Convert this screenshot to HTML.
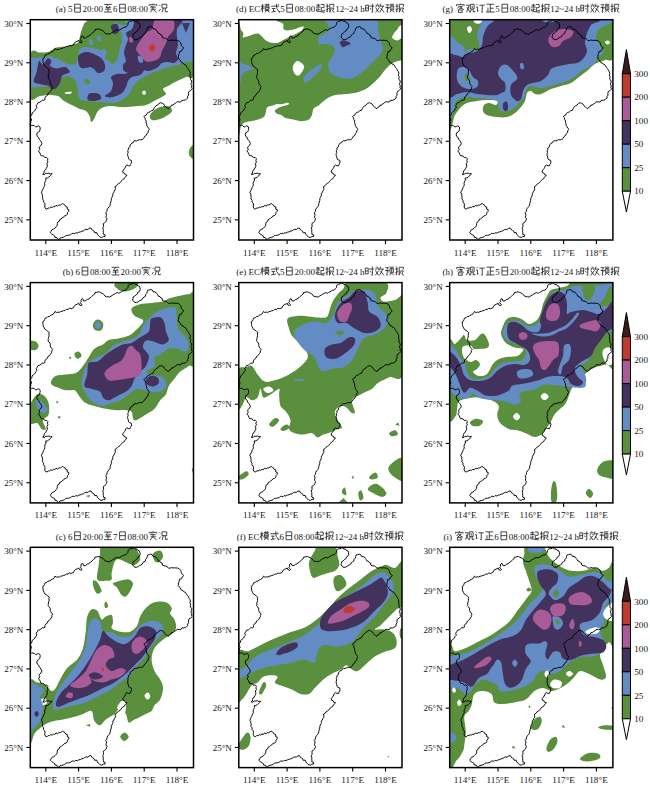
<!DOCTYPE html><html><head><meta charset="utf-8"><style>html,body{margin:0;padding:0;background:#fff;}svg{display:block}</style></head><body>
<svg width="650" height="786" viewBox="0 0 650 786" font-family="Liberation Serif, serif" fill="#222">
<defs><clipPath id="cl"><rect x="0" y="0" width="163.2" height="220.3"/></clipPath><path id="ol" d="M92.4,8.4 91.1,9.2 89.8,9.9 88.5,10.7 87.0,10.0 85.4,10.7 83.9,11.6 82.4,12.5 80.8,13.5 79.3,14.5 77.8,14.2 76.2,14.1 74.8,13.6 74.1,12.4 73.1,11.5 71.6,10.5 70.0,9.9 68.6,9.2 67.0,9.5 64.7,9.9 64.4,11.4 63.1,12.2 61.6,13.8 60.6,14.8 59.3,15.3 58.5,16.6 57.0,16.8 55.4,18.1 53.4,18.4 52.4,16.1 51.3,16.5 50.6,17.7 50.8,19.1 50.0,19.9 50.7,21.2 51.9,22.2 50.8,23.0 49.1,22.4 48.5,20.7 47.0,21.5 45.4,22.2 44.2,23.0 43.1,25.3 40.8,26.1 39.1,25.7 37.7,26.8 35.9,26.7 34.7,27.9 33.1,28.1 31.6,28.8 30.3,28.9 29.1,29.8 27.7,29.5 26.0,29.9 24.7,28.8 23.6,31.0 21.6,32.2 20.3,32.7 19.3,33.9 17.7,33.8 16.5,35.1 14.7,35.6 14.3,37.0 13.8,38.3 12.4,39.1 12.6,40.4 12.8,41.7 12.8,43.0 13.9,45.3 14.7,46.8 16.2,47.6 17.6,48.8 19.0,49.9 18.6,51.4 18.7,53.0 18.5,54.5 18.0,55.7 18.0,57.1 17.7,58.4 19.1,59.7 20.0,61.5 19.9,63.2 20.5,64.5 21.3,65.7 22.4,66.8 21.6,68.0 21.6,69.5 20.8,70.7 20.1,72.0 19.0,73.0 17.7,73.8 17.1,75.7 15.4,76.8 14.6,78.3 14.7,79.9 13.5,80.6 11.9,80.5 10.8,81.5 9.6,82.6 7.8,82.9 7.0,84.5 5.9,85.9 6.7,87.8 5.4,89.1 4.6,90.9 3.1,92.2 1.8,93.2 1.6,94.8 0.8,96.1 -0.0,97.4 0.8,98.9 1.3,100.3 0.4,101.6 0.5,103.0 -0.2,104.5 0.0,106.1 1.4,105.8 2.7,105.6 4.0,106.1 5.3,107.2 6.6,107.0 8.0,106.1 9.3,106.8 9.9,108.3 9.7,109.9 9.3,111.4 8.4,112.4 7.0,113.0 6.5,114.9 7.0,116.8 8.4,117.8 8.9,119.5 10.0,120.7 10.9,122.2 11.6,123.8 10.8,125.6 9.3,126.8 8.7,128.1 9.5,129.6 8.5,130.8 8.5,132.2 9.8,133.2 10.1,134.7 10.8,136.1 12.3,136.0 13.6,136.5 14.6,138.0 16.2,137.6 17.7,139.1 17.0,140.6 17.7,142.2 16.6,143.7 17.0,145.3 16.9,147.0 16.1,148.4 15.4,149.9 14.2,150.7 13.7,152.1 13.7,153.7 12.4,154.5 14.1,155.0 15.4,153.6 17.0,153.8 18.5,153.4 20.1,154.2 21.6,153.8 21.0,155.1 20.0,156.1 18.6,157.2 17.2,158.2 15.4,158.4 15.7,160.4 14.7,162.2 14.3,163.7 14.6,165.3 13.9,166.8 13.2,167.9 12.9,169.2 12.2,170.4 11.6,171.5 11.1,173.1 12.0,174.5 12.1,176.1 12.4,177.6 12.1,179.2 13.4,180.6 13.1,182.2 14.4,183.5 14.7,185.3 14.4,187.3 15.4,189.1 16.8,189.4 17.9,188.2 19.3,188.4 20.4,187.4 22.0,187.7 23.1,186.8 24.6,187.1 25.7,185.6 27.3,186.4 28.5,185.3 30.0,185.4 31.2,184.5 32.4,183.8 33.5,184.7 34.8,185.4 35.4,186.8 37.0,187.3 36.9,189.4 38.5,189.9 38.4,191.6 37.2,192.9 37.0,194.5 35.9,195.8 34.1,196.2 33.1,197.6 31.8,198.2 30.7,199.4 29.3,199.9 29.0,201.5 27.5,202.3 27.0,203.8 26.9,205.6 25.9,207.1 24.7,208.4 23.3,209.4 21.7,210.0 20.8,211.5 20.0,213.0 21.4,214.3 23.1,215.3 24.3,216.0 24.6,217.7 26.4,217.8 27.0,219.1 28.5,219.9 29.7,218.4 31.4,218.0 33.1,217.6 34.3,217.1 35.3,216.0 36.6,215.7 38.0,215.6 39.3,215.3 40.6,214.9 41.5,213.8 42.9,213.7 44.4,214.0 45.4,213.0 47.1,213.4 48.6,212.5 50.1,212.2 51.6,211.5 53.2,211.2 54.5,210.1 56.0,209.6 57.7,209.9 58.9,208.5 60.8,208.4 61.4,209.9 62.6,210.7 63.9,211.5 64.4,213.0 66.5,212.9 67.0,214.5 67.8,215.7 69.0,216.5 70.0,217.6 71.6,217.7 73.1,216.8 74.7,216.8 74.9,215.2 73.0,214.5 73.1,213.0 72.9,211.5 73.0,209.9 72.4,208.4 73.3,207.0 73.2,205.4 73.1,203.8 74.4,203.0 75.5,202.1 76.2,200.7 76.7,199.1 75.6,197.6 76.0,196.0 76.2,194.5 75.4,193.0 76.7,191.7 76.8,189.9 77.7,188.4 78.9,187.1 79.8,185.6 80.0,183.8 80.5,182.3 81.0,180.7 81.0,179.1 81.6,177.6 82.2,176.4 82.7,175.2 82.4,173.7 83.6,172.8 83.9,171.5 84.9,170.1 85.0,168.5 84.7,166.8 86.2,166.1 87.1,164.7 88.5,163.8 89.8,163.0 90.7,161.8 91.6,160.7 92.6,159.6 94.0,159.0 94.7,157.6 96.2,156.1 96.6,155.3 95.0,155.1 94.2,153.4 92.7,153.0 92.4,151.3 93.5,149.9 94.4,148.8 95.0,147.6 95.5,146.2 96.6,145.3 98.1,146.0 99.7,146.1 100.2,144.8 100.9,143.6 101.2,142.2 101.0,140.7 99.3,140.1 98.2,139.2 98.1,137.6 97.4,135.8 97.4,133.8 97.9,132.6 97.4,131.1 98.1,129.9 98.1,128.2 99.8,127.0 99.7,125.3 100.8,124.5 101.5,123.3 103.0,122.9 103.5,121.5 104.7,121.0 106.2,121.2 107.4,120.7 108.9,120.0 110.4,120.1 112.0,119.9 113.5,118.6 114.3,116.8 116.0,115.7 116.6,113.8 117.9,112.8 118.0,111.1 118.9,109.9 118.4,108.5 117.4,107.3 116.5,106.0 116.4,104.4 115.8,103.0 115.9,101.3 115.0,99.9 114.8,98.1 113.5,96.8 114.8,96.0 116.1,95.3 116.6,93.8 118.0,92.7 119.7,92.2 121.0,91.0 122.7,90.7 123.4,89.1 124.3,87.6 125.6,86.2 127.4,85.3 128.6,83.8 130.4,83.0 132.0,83.6 133.5,84.5 134.5,86.2 135.8,87.6 137.0,88.3 138.1,89.1 138.9,87.6 140.6,86.9 141.2,85.3 142.7,85.5 143.7,84.2 145.0,83.8 146.0,82.6 147.3,82.0 148.9,82.2 150.6,82.3 151.7,80.5 153.5,80.7 155.0,80.2 156.2,79.3 157.4,78.4 157.3,76.8 158.3,75.4 158.1,73.8 158.6,71.8 160.4,70.7 162.0,69.1 161.2,67.7 161.5,66.1 160.6,64.6 161.2,63.0 161.5,61.4 160.4,60.0 160.0,58.4 160.4,56.8 159.5,55.4 160.1,53.7 159.7,52.2 158.9,51.1 158.3,49.8 157.6,48.6 156.6,47.6 155.9,46.2 155.1,45.0 153.5,44.5 152.7,43.3 151.1,42.8 150.4,41.5 149.8,40.3 148.8,39.4 148.0,38.3 148.1,36.8 148.3,35.3 149.0,33.8 148.9,32.2 151.2,31.5 151.9,29.6 153.5,28.4 152.0,26.8 151.1,25.7 150.7,24.4 150.4,23.0 149.1,21.6 147.4,20.7 145.8,20.7 144.3,20.5 142.7,20.7 141.2,20.3 139.6,20.9 138.1,20.7 136.8,19.5 135.3,18.6 133.5,18.4 132.0,17.8 131.9,15.8 130.4,15.3 129.7,14.0 128.0,13.6 127.4,12.2 126.5,11.1 125.8,9.9 124.3,9.3 122.7,9.1 122.0,7.5 120.4,6.8 119.0,7.4 117.4,7.6 116.9,9.1 116.6,10.7 115.3,12.0 115.0,13.8 113.7,14.5 112.5,15.3 112.0,16.8 110.7,17.6 109.3,18.1 108.1,19.1 106.3,20.0 104.3,19.9 103.4,18.5 102.0,17.6 102.8,16.2 102.7,14.5 104.4,13.5 105.8,12.2 107.1,11.4 107.5,9.8 108.9,9.1 109.9,7.3 109.7,5.3 109.1,3.6 107.4,3.0 106.6,1.7 105.1,1.8 104.1,0.9 102.7,0.7 101.3,1.4 99.7,1.5 98.4,2.3 97.7,3.5 97.6,5.1 96.6,6.1 95.5,7.5 93.8,7.7Z" fill="none" stroke="#000" stroke-width="0.95" stroke-linejoin="round"/></defs>
<g transform="translate(30.3,19.7)">
<text x="25.48 28.48 32.47 37.72" y="-7.6" font-size="9.0" fill="#151515">(a)5</text><path d="M44.32,-15.45H50.02V-7.56H44.32ZM44.32,-11.65 50.02,-11.65" fill="none" stroke="#262626" stroke-width="0.85"/><text x="52.22 56.72 61.22 63.72 68.22" y="-7.6" font-size="9.0" fill="#151515">20:00</text><path d="M73.87,-15.26 81.47,-15.26M77.67,-15.26 75.58,-12.03 80.04,-12.41M79.09,-13.55 80.52,-12.12M74.82,-10.51 80.52,-10.51M77.67,-12.12 77.67,-7.85M73.68,-7.66 81.66,-7.66" fill="none" stroke="#262626" stroke-width="0.85"/><text x="82.72" y="-7.6" font-size="9.0" fill="#151515">6</text><path d="M89.32,-15.45H95.02V-7.56H89.32ZM89.32,-11.65 95.02,-11.65" fill="none" stroke="#262626" stroke-width="0.85"/><text x="97.22 101.72 106.22 108.72 113.22" y="-7.6" font-size="9.0" fill="#151515">08:00</text><path d="M122.67,-16.21 122.67,-15.16M118.87,-13.74 118.87,-14.97 126.47,-14.97 126.47,-13.74M119.82,-12.60 125.52,-12.60M120.29,-10.51 125.52,-10.51M122.67,-13.74 122.67,-10.51M122.67,-10.51 119.82,-7.28M123.14,-9.94 126.28,-7.37M120.77,-13.74 121.53,-13.17" fill="none" stroke="#262626" stroke-width="0.85"/><path d="M128.87,-14.88 130.01,-13.74M128.68,-8.32 130.29,-10.70M131.72,-15.45H136.47V-11.65H131.72ZM133.14,-11.65 131.72,-7.28M135.04,-11.65 135.04,-7.85 137.04,-7.85 137.04,-8.80" fill="none" stroke="#262626" stroke-width="0.85"/>
<g clip-path="url(#cl)">
<path d="M0.1,34.3C1.8,26.9 6.8,33.2 9.7,32.9C12.6,32.6 15.4,32.9 17.7,32.3C20.0,31.7 21.0,30.1 23.7,29.3C26.4,28.5 30.4,28.1 33.7,27.3C37.0,26.5 41.2,25.1 43.7,24.3C46.2,23.5 47.2,23.6 48.7,22.3C50.2,21.0 51.7,18.5 52.7,16.3C53.7,14.1 54.5,11.3 54.7,9.3C54.9,7.3 53.2,5.6 53.7,4.3C54.2,3.0 56.4,2.5 57.7,1.7C59.0,0.9 44.0,-0.3 61.7,-0.7C79.4,-1.1 146.7,-9.7 163.7,-0.7C180.7,8.3 165.0,43.6 163.7,53.3C162.4,63.0 158.5,56.0 155.7,57.3C152.9,58.6 149.7,59.8 146.7,61.3C143.7,62.8 140.0,65.0 137.7,66.3C135.4,67.6 133.0,68.0 132.7,69.3C132.4,70.6 136.2,72.8 135.7,74.3C135.2,75.8 131.7,77.1 129.7,78.3C127.7,79.5 126.0,80.1 123.7,81.3C121.4,82.5 118.4,84.5 115.7,85.3C113.0,86.1 110.7,86.0 107.7,86.3C104.7,86.6 100.7,87.1 97.7,87.3C94.7,87.5 92.4,87.5 89.7,87.3C87.0,87.1 84.4,86.3 81.7,86.3C79.0,86.3 76.0,86.5 73.7,87.3C71.4,88.1 69.4,89.3 67.7,91.3C66.0,93.3 64.9,97.5 63.7,99.3C62.5,101.1 61.4,102.6 60.7,102.3C60.0,102.0 60.5,99.1 59.7,97.3C58.9,95.5 57.4,92.6 55.7,91.3C54.0,90.0 51.7,90.1 49.7,89.3C47.7,88.5 46.4,87.6 43.7,86.3C41.0,85.0 36.4,83.0 33.7,81.3C31.0,79.6 30.4,77.3 27.7,76.3C25.0,75.3 20.7,75.3 17.7,75.3C14.7,75.3 12.7,76.0 9.7,76.3C6.7,76.6 1.3,84.3 -0.3,77.3C-1.9,70.3 -1.6,41.7 0.1,34.3Z" fill="#5a8f3e"/>
<path d="M119.7,95.3C120.4,93.5 123.4,90.8 125.7,89.3C128.0,87.8 131.4,86.6 133.7,86.3C136.0,86.0 138.4,86.5 139.7,87.3C141.0,88.1 142.0,90.0 141.7,91.3C141.4,92.6 139.7,94.0 137.7,95.3C135.7,96.6 132.4,98.5 129.7,99.3C127.0,100.1 123.4,101.0 121.7,100.3C120.0,99.6 119.0,97.1 119.7,95.3Z" fill="#5a8f3e"/>
<path d="M160.0,128.0C160.9,126.8 163.3,124.2 164.0,126.0C164.7,127.8 164.7,137.2 164.0,139.0C163.3,140.8 160.9,138.0 160.0,137.0C159.1,136.0 158.5,134.5 158.5,133.0C158.5,131.5 159.1,129.2 160.0,128.0Z" fill="#5a8f3e"/>
<path d="M-0.3,40.3C0.7,35.8 3.4,38.8 5.7,38.3C8.0,37.8 11.0,37.6 13.7,37.3C16.4,37.0 19.0,36.8 21.7,36.3C24.4,35.8 27.0,35.0 29.7,34.3C32.4,33.6 35.4,33.1 37.7,32.3C40.0,31.5 42.0,30.1 43.7,29.3C45.4,28.5 46.7,28.0 47.7,27.3C48.7,26.6 48.7,26.0 49.7,25.3C50.7,24.6 52.4,24.3 53.7,23.3C55.0,22.3 56.7,20.5 57.7,19.3C58.7,18.1 58.7,17.3 59.7,16.3C60.7,15.3 62.4,14.1 63.7,13.3C65.0,12.5 65.7,12.0 67.7,11.3C69.7,10.6 73.4,10.3 75.7,9.3C78.0,8.3 80.0,6.5 81.7,5.3C83.4,4.1 84.0,2.3 85.7,2.3C87.4,2.3 89.7,5.0 91.7,5.3C93.7,5.6 96.4,5.3 97.7,4.3C99.0,3.3 88.7,0.1 99.7,-0.7C110.7,-1.5 153.0,-7.0 163.7,-0.7C174.4,5.6 165.0,30.1 163.7,37.3C162.4,44.5 158.4,41.0 155.7,42.3C153.0,43.6 150.7,44.5 147.7,45.3C144.7,46.1 140.7,46.5 137.7,47.3C134.7,48.1 132.4,49.3 129.7,50.3C127.0,51.3 124.4,52.1 121.7,53.3C119.0,54.5 116.0,56.0 113.7,57.3C111.4,58.6 109.4,60.0 107.7,61.3C106.0,62.6 105.0,63.3 103.7,65.3C102.4,67.3 101.0,71.3 99.7,73.3C98.4,75.3 97.4,76.0 95.7,77.3C94.0,78.6 92.0,80.3 89.7,81.3C87.4,82.3 85.0,83.1 81.7,83.3C78.4,83.5 73.7,82.6 69.7,82.3C65.7,82.0 61.0,81.8 57.7,81.3C54.4,80.8 51.4,80.6 49.7,79.3C48.0,78.0 48.2,75.6 47.7,73.3C47.2,71.0 47.4,67.6 46.7,65.3C46.0,63.0 45.2,60.8 43.7,59.3C42.2,57.8 39.4,56.6 37.7,56.3C36.0,56.0 35.0,56.8 33.7,57.3C32.4,57.8 30.7,58.3 29.7,59.3C28.7,60.3 28.7,62.3 27.7,63.3C26.7,64.3 25.4,64.8 23.7,65.3C22.0,65.8 20.0,66.0 17.7,66.3C15.4,66.6 12.7,67.5 9.7,67.3C6.7,67.1 1.4,69.8 -0.3,65.3C-2.0,60.8 -1.3,44.8 -0.3,40.3Z" fill="#648cc4"/>
<path d="M46.7,30.3C47.5,31.3 51.0,27.6 53.7,27.3C56.4,27.0 60.0,27.8 62.7,28.3C65.4,28.8 67.9,30.1 69.7,30.3C71.5,30.5 72.5,29.0 73.7,29.3C74.9,29.6 76.5,31.0 76.7,32.3C76.9,33.6 74.2,35.6 74.7,37.3C75.2,39.0 78.5,41.1 79.7,42.3C80.9,43.5 80.5,44.6 81.7,44.3C82.9,44.0 85.4,43.1 86.7,40.3C88.0,37.5 88.9,30.8 89.7,27.3C90.5,23.8 91.7,22.1 91.7,19.3C91.7,16.5 91.4,13.0 89.7,10.3C88.0,7.6 83.7,4.8 81.7,3.3C79.7,1.8 81.7,1.6 77.7,1.3C73.7,1.0 62.0,-0.0 57.7,1.3C53.4,2.6 53.2,6.0 51.7,9.3C50.2,12.6 49.5,17.8 48.7,21.3C47.9,24.8 45.9,29.3 46.7,30.3Z" fill="#5a8f3e"/>
<path d="M103.7,9.3C104.4,7.3 107.4,6.3 109.7,5.3C112.0,4.3 115.0,3.5 117.7,3.3C120.4,3.1 123.0,3.3 125.7,4.3C128.4,5.3 132.0,7.1 133.7,9.3C135.4,11.5 135.0,14.6 135.7,17.3C136.4,20.0 137.7,22.6 137.7,25.3C137.7,28.0 136.7,31.0 135.7,33.3C134.7,35.6 133.0,37.6 131.7,39.3C130.4,41.0 129.0,43.6 127.7,43.3C126.4,43.0 125.4,39.0 123.7,37.3C122.0,35.6 119.7,34.6 117.7,33.3C115.7,32.0 113.0,31.3 111.7,29.3C110.4,27.3 110.7,23.3 109.7,21.3C108.7,19.3 106.7,19.3 105.7,17.3C104.7,15.3 103.0,11.3 103.7,9.3Z" fill="#5a8f3e"/>
<path d="M53.7,60.3C54.0,59.5 56.7,58.8 57.7,59.3C58.7,59.8 60.0,62.5 59.7,63.3C59.4,64.1 56.7,64.8 55.7,64.3C54.7,63.8 53.4,61.1 53.7,60.3Z" fill="#5a8f3e"/>
<path d="M22.3,37.3C21.6,35.6 22.1,31.0 23.3,29.3C24.5,27.6 27.3,27.7 29.7,27.3C32.1,26.9 34.8,27.2 37.7,26.9C40.6,26.6 45.1,24.6 46.9,25.3C48.7,26.0 48.6,29.1 48.7,31.3C48.8,33.5 47.8,36.2 47.3,38.3C46.8,40.4 46.8,42.6 45.7,43.7C44.6,44.8 42.4,44.9 40.7,44.9C39.0,44.9 37.1,44.2 35.7,43.7C34.3,43.2 33.4,42.4 32.1,41.7C30.8,41.0 29.3,40.0 27.7,39.3C26.1,38.6 23.0,39.0 22.3,37.3Z" fill="#5a8f3e"/>
<path d="M0.1,50.9C0.3,50.3 1.3,49.5 1.7,49.7C2.1,49.9 2.7,51.7 2.5,52.3C2.3,52.9 0.9,53.5 0.5,53.3C0.1,53.1 -0.1,51.5 0.1,50.9Z" fill="#5a8f3e"/>
<path d="M58.7,20.3C59.0,19.4 60.6,19.0 61.3,19.7C62.0,20.4 63.0,23.4 62.7,24.3C62.4,25.2 60.4,26.0 59.7,25.3C59.0,24.6 58.4,21.2 58.7,20.3Z" fill="#648cc4"/>
<path d="M66.7,16.9C67.0,16.1 69.0,15.6 69.7,16.3C70.4,17.0 71.0,20.1 70.7,20.9C70.4,21.7 68.4,22.0 67.7,21.3C67.0,20.6 66.4,17.7 66.7,16.9Z" fill="#648cc4"/>
<path d="M3.3,60.9C3.5,59.1 5.4,55.6 6.3,52.3C7.2,49.0 7.7,42.5 8.7,41.3C9.7,40.1 11.1,45.3 12.5,44.9C13.9,44.5 15.9,39.3 17.3,38.7C18.7,38.1 20.7,40.1 21.1,41.3C21.5,42.5 19.1,44.9 19.9,46.1C20.7,47.3 23.6,48.5 26.1,48.7C28.6,48.9 32.5,46.7 34.7,47.3C36.9,47.9 39.9,50.9 39.5,52.3C39.1,53.7 33.7,54.1 32.1,55.9C30.5,57.7 30.7,61.2 29.7,63.3C28.7,65.4 27.3,67.3 26.1,68.3C24.9,69.3 23.8,69.9 22.3,69.5C20.8,69.1 19.1,66.7 17.3,65.9C15.5,65.1 13.3,65.1 11.3,64.7C9.3,64.3 6.4,63.9 5.1,63.3C3.8,62.7 3.1,62.7 3.3,60.9Z" fill="#43325e"/>
<path d="M47.7,37.3C48.0,35.0 50.0,34.1 51.7,33.3C53.4,32.5 55.4,32.0 57.7,32.3C60.0,32.6 63.4,34.1 65.7,35.3C68.0,36.5 70.2,37.6 71.7,39.3C73.2,41.0 74.4,43.3 74.7,45.3C75.0,47.3 74.9,50.0 73.7,51.3C72.5,52.6 69.4,53.6 67.7,53.3C66.0,53.0 65.0,50.3 63.7,49.3C62.4,48.3 61.0,47.5 59.7,47.3C58.4,47.1 57.4,48.3 55.7,48.3C54.0,48.3 51.0,49.1 49.7,47.3C48.4,45.5 47.4,39.6 47.7,37.3Z" fill="#43325e"/>
<path d="M57.7,75.3C58.4,74.1 59.9,73.5 61.7,73.3C63.5,73.1 67.2,73.3 68.7,74.3C70.2,75.3 71.5,78.1 70.7,79.3C69.9,80.5 65.9,81.1 63.7,81.3C61.5,81.5 58.7,81.3 57.7,80.3C56.7,79.3 57.0,76.5 57.7,75.3Z" fill="#43325e"/>
<path d="M74.7,76.3C74.9,75.2 79.4,73.5 80.7,71.3C82.0,69.1 82.7,65.6 82.7,63.3C82.7,61.0 80.0,58.8 80.7,57.3C81.4,55.8 84.5,54.8 86.7,54.3C88.9,53.8 91.5,54.6 93.7,54.3C95.9,54.0 97.7,52.9 99.7,52.3C101.7,51.7 103.4,51.3 105.7,50.9C108.0,50.5 113.0,49.0 113.7,49.7C114.4,50.4 111.7,54.0 109.7,55.3C107.7,56.6 103.7,56.3 101.7,57.3C99.7,58.3 98.7,59.6 97.7,61.3C96.7,63.0 96.7,65.3 95.7,67.3C94.7,69.3 93.4,71.8 91.7,73.3C90.0,74.8 87.7,75.6 85.7,76.3C83.7,77.0 81.5,77.7 79.7,77.7C77.9,77.7 74.5,77.4 74.7,76.3Z" fill="#43325e"/>
<path d="M95.7,13.3C96.4,11.6 100.4,11.0 101.7,9.3C103.0,7.6 103.0,5.0 103.7,3.3C104.4,1.6 98.0,-0.0 105.7,-0.7C113.4,-1.4 142.9,-2.4 149.7,-0.7C156.5,1.0 147.2,6.3 146.7,9.3C146.2,12.3 146.5,14.6 146.7,17.3C146.9,20.0 147.9,22.6 147.7,25.3C147.5,28.0 145.7,31.0 145.7,33.3C145.7,35.6 148.0,37.6 147.7,39.3C147.4,41.0 145.4,42.8 143.7,43.3C142.0,43.8 139.7,42.3 137.7,42.3C135.7,42.3 133.4,42.5 131.7,43.3C130.0,44.1 129.4,46.1 127.7,47.3C126.0,48.5 123.4,49.6 121.7,50.3C120.0,51.0 119.4,51.3 117.7,51.3C116.0,51.3 113.7,50.3 111.7,50.3C109.7,50.3 107.7,50.8 105.7,51.3C103.7,51.8 101.7,53.3 99.7,53.3C97.7,53.3 94.9,52.6 93.7,51.3C92.5,50.0 92.4,47.0 92.7,45.3C93.0,43.6 95.5,43.3 95.7,41.3C95.9,39.3 93.7,36.0 93.7,33.3C93.7,30.6 95.0,27.6 95.7,25.3C96.4,23.0 97.7,21.3 97.7,19.3C97.7,17.3 95.0,15.0 95.7,13.3Z" fill="#43325e"/>
<path d="M151.7,3.3 159.7,3.3 155.7,13.3Z" fill="#43325e"/>
<path d="M80.7,6.3C81.2,4.6 85.4,3.5 86.7,4.3C88.0,5.1 89.2,9.6 88.7,11.3C88.2,13.0 85.0,15.1 83.7,14.3C82.4,13.5 80.2,8.0 80.7,6.3Z" fill="#43325e"/>
<path d="M107.7,36.3C108.2,35.5 110.9,36.3 111.7,37.3C112.5,38.3 113.2,41.5 112.7,42.3C112.2,43.1 109.5,43.3 108.7,42.3C107.9,41.3 107.2,37.1 107.7,36.3Z" fill="#648cc4"/>
<path d="M125.7,15.3C126.9,14.9 131.0,15.6 131.7,16.3C132.4,17.0 130.9,19.3 129.7,19.7C128.5,20.1 125.4,19.6 124.7,18.9C124.0,18.2 124.5,15.7 125.7,15.3Z" fill="#648cc4"/>
<path d="M105.7,29.3C105.7,27.0 108.0,24.0 109.7,21.3C111.4,18.6 113.7,15.3 115.7,13.3C117.7,11.3 120.0,11.6 121.7,9.3C123.4,7.0 122.4,1.0 125.7,-0.7C129.0,-2.4 138.7,-2.4 141.7,-0.7C144.7,1.0 144.4,6.3 143.7,9.3C143.0,12.3 139.0,15.0 137.7,17.3C136.4,19.6 136.7,21.0 135.7,23.3C134.7,25.6 132.7,29.0 131.7,31.3C130.7,33.6 130.7,35.8 129.7,37.3C128.7,38.8 127.7,39.5 125.7,40.3C123.7,41.1 119.7,42.3 117.7,42.3C115.7,42.3 115.0,41.5 113.7,40.3C112.4,39.1 111.0,37.1 109.7,35.3C108.4,33.5 105.7,31.6 105.7,29.3Z" fill="#a85b96"/>
<path d="M98.7,18.3C99.1,17.5 101.0,16.6 101.7,17.3C102.4,18.0 103.1,21.5 102.7,22.3C102.3,23.1 100.0,23.0 99.3,22.3C98.6,21.6 98.3,19.1 98.7,18.3Z" fill="#a85b96"/>
<path d="M118.7,27.3C118.8,26.3 119.9,25.2 120.7,24.9C121.5,24.6 123.0,24.7 123.7,25.3C124.4,25.9 125.2,27.3 125.1,28.3C125.0,29.3 124.1,30.9 123.3,31.3C122.5,31.7 120.9,31.6 120.1,30.9C119.3,30.2 118.6,28.3 118.7,27.3Z" fill="#c03a30"/>
<path d="M111.7,72.9C111.8,72.2 113.4,70.8 114.1,70.9C114.8,71.0 115.8,72.6 115.7,73.3C115.6,74.0 114.4,75.4 113.7,75.3C113.0,75.2 111.6,73.6 111.7,72.9Z" fill="#ffffff"/>
<path d="M34.7,72.9C35.5,72.5 39.7,71.6 40.7,71.7C41.7,71.8 41.5,73.3 40.7,73.7C39.9,74.1 36.7,74.4 35.7,74.3C34.7,74.2 33.9,73.3 34.7,72.9Z" fill="#ffffff"/>
</g>
<use href="#ol"/>
<rect x="0" y="0" width="163.2" height="220.3" fill="none" stroke="#000" stroke-width="1.5"/>
<line x1="-4" y1="3.80" x2="0" y2="3.80" stroke="#000" stroke-width="1.1"/>
<text x="-7.0" y="7.00" font-size="9" text-anchor="end" fill="#151515">30°N</text>
<line x1="-4" y1="43.07" x2="0" y2="43.07" stroke="#000" stroke-width="1.1"/>
<text x="-7.0" y="46.27" font-size="9" text-anchor="end" fill="#151515">29°N</text>
<line x1="-4" y1="82.34" x2="0" y2="82.34" stroke="#000" stroke-width="1.1"/>
<text x="-7.0" y="85.54" font-size="9" text-anchor="end" fill="#151515">28°N</text>
<line x1="-4" y1="121.61" x2="0" y2="121.61" stroke="#000" stroke-width="1.1"/>
<text x="-7.0" y="124.81" font-size="9" text-anchor="end" fill="#151515">27°N</text>
<line x1="-4" y1="160.88" x2="0" y2="160.88" stroke="#000" stroke-width="1.1"/>
<text x="-7.0" y="164.08" font-size="9" text-anchor="end" fill="#151515">26°N</text>
<line x1="-4" y1="200.15" x2="0" y2="200.15" stroke="#000" stroke-width="1.1"/>
<text x="-7.0" y="203.35" font-size="9" text-anchor="end" fill="#151515">25°N</text>
<line x1="15.50" y1="220.3" x2="15.50" y2="224.3" stroke="#000" stroke-width="1.1"/>
<text x="15.50" y="235.90" font-size="9.2" text-anchor="middle" fill="#151515">114°E</text>
<line x1="48.30" y1="220.3" x2="48.30" y2="224.3" stroke="#000" stroke-width="1.1"/>
<text x="48.30" y="235.90" font-size="9.2" text-anchor="middle" fill="#151515">115°E</text>
<line x1="81.10" y1="220.3" x2="81.10" y2="224.3" stroke="#000" stroke-width="1.1"/>
<text x="81.10" y="235.90" font-size="9.2" text-anchor="middle" fill="#151515">116°E</text>
<line x1="113.90" y1="220.3" x2="113.90" y2="224.3" stroke="#000" stroke-width="1.1"/>
<text x="113.90" y="235.90" font-size="9.2" text-anchor="middle" fill="#151515">117°E</text>
<line x1="146.70" y1="220.3" x2="146.70" y2="224.3" stroke="#000" stroke-width="1.1"/>
<text x="146.70" y="235.90" font-size="9.2" text-anchor="middle" fill="#151515">118°E</text>
</g>
<g transform="translate(30.3,282.6)">
<text x="32.48 35.47 39.97 45.22" y="-7.6" font-size="9.0" fill="#151515">(b)6</text><path d="M51.82,-15.45H57.52V-7.56H51.82ZM51.82,-11.65 57.52,-11.65" fill="none" stroke="#262626" stroke-width="0.85"/><text x="59.72 64.22 68.72 71.22 75.72" y="-7.6" font-size="9.0" fill="#151515">08:00</text><path d="M81.37,-15.26 88.97,-15.26M85.17,-15.26 83.08,-12.03 87.55,-12.41M86.60,-13.55 88.02,-12.12M82.32,-10.51 88.02,-10.51M85.17,-12.12 85.17,-7.85M81.18,-7.66 89.16,-7.66" fill="none" stroke="#262626" stroke-width="0.85"/><text x="90.22 94.72 99.22 101.72 106.22" y="-7.6" font-size="9.0" fill="#151515">20:00</text><path d="M115.67,-16.21 115.67,-15.16M111.87,-13.74 111.87,-14.97 119.47,-14.97 119.47,-13.74M112.82,-12.60 118.52,-12.60M113.30,-10.51 118.52,-10.51M115.67,-13.74 115.67,-10.51M115.67,-10.51 112.82,-7.28M116.15,-9.94 119.28,-7.37M113.77,-13.74 114.53,-13.17" fill="none" stroke="#262626" stroke-width="0.85"/><path d="M121.87,-14.88 123.01,-13.74M121.68,-8.32 123.30,-10.70M124.72,-15.45H129.47V-11.65H124.72ZM126.15,-11.65 124.72,-7.28M128.05,-11.65 128.05,-7.85 130.04,-7.85 130.04,-8.80" fill="none" stroke="#262626" stroke-width="0.85"/>
<g clip-path="url(#cl)">
<path d="M21.2,97.6C21.9,96.2 23.1,94.2 25.5,93.3C27.9,92.3 32.2,92.4 35.5,91.9C38.8,91.4 42.6,91.8 45.5,90.4C48.4,89.0 50.6,85.9 52.7,83.3C54.9,80.7 56.5,77.6 58.4,74.7C60.3,71.8 61.7,68.2 64.1,66.1C66.5,63.9 70.3,63.2 72.7,61.8C75.1,60.4 76.0,58.5 78.4,57.5C80.8,56.5 83.7,56.8 87.0,56.1C90.3,55.4 95.5,54.4 98.4,53.2C101.3,52.0 102.3,50.6 104.2,48.9C106.1,47.2 108.5,45.1 109.9,43.2C111.3,41.3 113.7,39.2 112.7,37.5C111.8,35.8 106.1,35.1 104.2,33.2C102.3,31.3 100.3,27.9 101.3,26.0C102.2,24.1 106.6,22.6 109.9,21.7C113.2,20.8 117.5,20.8 121.3,20.3C125.1,19.8 129.9,19.6 132.8,18.9C135.7,18.2 135.7,17.0 138.5,16.0C141.3,15.0 146.6,13.8 149.9,13.1C153.2,12.4 156.1,11.4 158.5,11.7C160.9,11.9 163.3,3.6 164.3,14.6C165.3,25.6 165.3,66.1 164.3,77.6C163.3,89.0 160.9,81.4 158.5,83.3C156.1,85.2 152.3,86.8 149.9,89.0C147.5,91.2 146.1,93.8 144.2,96.2C142.3,98.6 139.9,100.7 138.5,103.3C137.1,105.9 137.0,109.5 135.6,111.9C134.2,114.3 131.8,115.2 129.9,117.6C128.0,120.0 126.6,123.8 124.2,126.2C121.8,128.6 118.9,130.0 115.6,131.9C112.3,133.8 106.6,138.2 104.2,137.7C101.8,137.2 102.7,130.8 101.3,129.1C99.9,127.4 98.0,127.8 95.6,127.6C93.2,127.3 90.3,127.8 87.0,127.6C83.7,127.4 79.3,126.9 75.5,126.2C71.7,125.5 67.4,124.4 64.1,123.4C60.8,122.5 57.9,121.9 55.5,120.5C53.1,119.1 51.2,116.5 49.8,114.8C48.4,113.1 47.8,111.7 46.9,110.5C46.0,109.3 46.0,108.1 44.1,107.6C42.2,107.1 38.4,108.1 35.5,107.6C32.6,107.1 29.3,105.7 26.9,104.7C24.5,103.8 22.1,103.1 21.2,101.9C20.2,100.7 20.5,99.0 21.2,97.6Z" fill="#5a8f3e"/>
<path d="M84.1,3.1C83.4,1.6 84.6,0.3 88.4,-0.3C92.2,-0.9 104.4,-1.3 107.0,-0.3C109.6,0.7 106.6,4.5 104.2,6.0C101.8,7.5 96.1,9.4 92.7,8.9C89.3,8.4 84.8,4.6 84.1,3.1Z" fill="#5a8f3e"/>
<path d="M-0.6,58.9C0.4,57.7 3.9,58.2 5.4,58.9C6.9,59.6 8.3,61.8 8.3,63.2C8.3,64.6 6.9,67.0 5.4,67.5C3.9,68.0 0.4,67.5 -0.6,66.1C-1.6,64.7 -1.6,60.1 -0.6,58.9Z" fill="#5a8f3e"/>
<path d="M44.1,71.3C44.4,70.1 47.2,68.7 48.4,69.0C49.6,69.3 51.5,72.1 51.2,73.3C51.0,74.5 48.1,76.4 46.9,76.1C45.7,75.8 43.9,72.5 44.1,71.3Z" fill="#5a8f3e"/>
<path d="M-0.6,123.4C0.7,118.6 4.5,113.6 6.9,111.9C9.3,110.2 12.1,111.9 14.0,113.3C15.9,114.7 17.6,117.4 18.3,120.5C19.0,123.6 19.2,129.0 18.3,131.9C17.4,134.8 13.1,135.3 12.6,137.7C12.1,140.1 15.7,144.9 15.5,146.3C15.3,147.7 12.6,147.3 11.2,146.3C9.8,145.3 8.9,141.5 6.9,140.5C4.9,139.5 0.7,143.3 -0.6,140.5C-1.9,137.7 -1.9,128.2 -0.6,123.4Z" fill="#5a8f3e"/>
<path d="M62.7,41.8C63.1,40.0 65.3,37.1 67.0,36.9C68.7,36.6 72.0,38.5 72.7,40.3C73.4,42.1 72.6,46.3 71.3,47.5C70.0,48.7 66.1,48.5 64.7,47.5C63.3,46.5 62.3,43.6 62.7,41.8Z" fill="#5a8f3e"/>
<path d="M25.5,118.2 28.3,119.1 26.9,121.1Z" fill="#5a8f3e"/>
<path d="M26.9,134.2 30.3,133.4 29.2,136.5Z" fill="#5a8f3e"/>
<path d="M55.5,213.5 59.8,212.1 58.9,215Z" fill="#5a8f3e"/>
<path d="M161.4,186.3 163.1,184.9 163.1,192.1Z" fill="#5a8f3e"/>
<path d="M38.3,74.7 41.2,74.1 40.1,77Z" fill="#5a8f3e"/>
<path d="M51.2,100.5C51.2,98.1 51.8,95.0 52.7,91.9C53.7,88.8 55.0,84.4 56.9,81.8C58.8,79.2 61.0,78.0 64.1,76.1C67.2,74.2 72.4,72.6 75.5,70.4C78.6,68.2 79.8,65.1 82.7,63.2C85.6,61.3 89.4,60.1 92.7,58.9C96.0,57.7 99.8,57.5 102.7,56.1C105.6,54.7 108.2,52.5 109.9,50.4C111.6,48.2 110.8,46.1 112.7,43.2C114.6,40.3 118.4,35.8 121.3,33.2C124.2,30.6 126.6,28.9 129.9,27.5C133.2,26.1 138.8,24.9 141.4,24.6C144.0,24.4 144.8,22.9 145.7,26.0C146.6,29.1 146.4,39.4 147.1,43.2C147.8,47.0 148.5,47.0 149.9,48.9C151.3,50.8 154.3,52.3 155.7,54.7C157.1,57.1 158.5,60.8 158.5,63.2C158.5,65.6 157.6,68.5 155.7,69.0C153.8,69.5 150.0,66.6 147.1,66.1C144.2,65.6 141.4,65.1 138.5,66.1C135.6,67.0 132.3,70.4 129.9,71.8C127.5,73.2 125.2,72.8 124.2,74.7C123.2,76.6 125.6,80.9 124.2,83.3C122.8,85.7 116.1,87.6 115.6,89.0C115.1,90.4 118.4,91.0 121.3,91.9C124.2,92.9 130.4,92.8 132.8,94.7C135.2,96.6 136.1,100.9 135.6,103.3C135.1,105.7 132.8,108.0 129.9,109.0C127.1,110.0 122.3,109.5 118.5,109.0C114.7,108.5 110.3,105.7 107.0,106.2C103.7,106.7 101.2,110.0 98.4,111.9C95.6,113.8 92.8,116.2 89.9,117.6C87.1,119.0 84.2,119.5 81.3,120.5C78.4,121.5 75.6,123.4 72.7,123.4C69.8,123.4 66.5,121.7 64.1,120.5C61.7,119.3 59.8,117.9 58.4,116.2C57.0,114.5 56.5,112.2 55.5,110.5C54.5,108.8 53.4,107.9 52.7,106.2C52.0,104.5 51.2,102.9 51.2,100.5Z" fill="#648cc4"/>
<path d="M5.4,119.1C5.6,117.4 7.8,116.4 9.7,117.6C11.6,118.8 16.2,124.0 16.9,126.2C17.6,128.3 15.4,130.3 14.0,130.5C12.6,130.7 9.7,129.5 8.3,127.6C6.9,125.7 5.2,120.8 5.4,119.1Z" fill="#648cc4"/>
<path d="M64.7,41.8C65.0,40.7 66.5,38.9 67.5,38.9C68.5,38.9 70.4,40.7 70.7,41.8C71.0,42.9 70.2,44.9 69.3,45.5C68.4,46.1 66.3,46.1 65.5,45.5C64.7,44.9 64.4,42.9 64.7,41.8Z" fill="#648cc4"/>
<path d="M54.1,103.3C53.4,100.9 56.2,95.7 56.9,91.9C57.6,88.1 56.7,82.6 58.4,80.4C60.1,78.2 64.2,80.4 67.0,79.0C69.8,77.6 72.7,74.0 75.5,71.8C78.3,69.6 81.2,67.8 84.1,66.1C87.0,64.4 89.8,62.8 92.7,61.8C95.6,60.8 98.4,61.6 101.3,60.4C104.2,59.2 107.0,56.6 109.9,54.7C112.8,52.8 116.8,51.3 118.5,48.9C120.2,46.5 119.4,42.4 119.9,40.3C120.4,38.1 119.6,37.0 121.3,36.0C123.0,35.0 127.8,33.9 129.9,34.6C132.1,35.3 133.2,37.9 134.2,40.3C135.1,42.7 134.9,46.0 135.6,48.9C136.3,51.8 139.0,55.4 138.5,57.5C138.0,59.6 134.7,61.3 132.8,61.8C130.9,62.3 128.8,60.9 127.1,60.4C125.4,59.9 124.7,59.3 122.8,58.9C120.9,58.5 117.3,57.1 115.6,58.1C113.9,59.1 112.2,62.2 112.7,64.7C113.2,67.2 118.0,70.2 118.5,73.3C119.0,76.4 117.0,80.7 115.6,83.3C114.2,85.9 111.8,86.8 109.9,89.0C108.0,91.2 105.6,93.8 104.2,96.2C102.8,98.6 102.7,101.2 101.3,103.3C99.9,105.4 98.0,107.3 95.6,109.0C93.2,110.7 89.9,111.9 87.0,113.3C84.1,114.7 80.8,117.3 78.4,117.6C76.0,117.8 74.1,116.2 72.7,114.8C71.3,113.4 71.7,110.4 69.8,109.0C67.9,107.6 63.8,107.2 61.2,106.2C58.6,105.2 54.8,105.7 54.1,103.3Z" fill="#43325e"/>
<path d="M115.6,97.6C116.1,96.2 118.0,93.8 119.9,93.3C121.8,92.8 125.7,93.5 127.1,94.7C128.5,95.9 129.2,99.0 128.5,100.5C127.8,102.0 124.7,103.7 122.8,103.9C120.9,104.1 118.2,103.0 117.0,101.9C115.8,100.9 115.1,99.0 115.6,97.6Z" fill="#43325e"/>
<path d="M74.1,90.4C74.6,88.0 78.7,85.2 81.3,83.3C83.9,81.4 87.8,80.7 89.9,79.0C92.0,77.3 92.9,75.5 94.1,73.3C95.3,71.1 95.8,67.8 97.0,66.1C98.2,64.4 99.9,63.0 101.3,63.2C102.7,63.4 104.2,66.1 105.6,67.5C107.0,68.9 109.0,69.2 109.9,71.8C110.9,74.4 111.3,79.9 111.3,83.3C111.3,86.7 111.1,90.0 109.9,91.9C108.7,93.8 106.6,94.0 104.2,94.7C101.8,95.4 98.5,95.7 95.6,96.2C92.7,96.7 89.9,97.4 87.0,97.6C84.1,97.8 80.6,98.8 78.4,97.6C76.2,96.4 73.6,92.8 74.1,90.4Z" fill="#a85b96"/>
</g>
<use href="#ol"/>
<rect x="0" y="0" width="163.2" height="220.3" fill="none" stroke="#000" stroke-width="1.5"/>
<line x1="-4" y1="3.80" x2="0" y2="3.80" stroke="#000" stroke-width="1.1"/>
<text x="-7.0" y="7.00" font-size="9" text-anchor="end" fill="#151515">30°N</text>
<line x1="-4" y1="43.07" x2="0" y2="43.07" stroke="#000" stroke-width="1.1"/>
<text x="-7.0" y="46.27" font-size="9" text-anchor="end" fill="#151515">29°N</text>
<line x1="-4" y1="82.34" x2="0" y2="82.34" stroke="#000" stroke-width="1.1"/>
<text x="-7.0" y="85.54" font-size="9" text-anchor="end" fill="#151515">28°N</text>
<line x1="-4" y1="121.61" x2="0" y2="121.61" stroke="#000" stroke-width="1.1"/>
<text x="-7.0" y="124.81" font-size="9" text-anchor="end" fill="#151515">27°N</text>
<line x1="-4" y1="160.88" x2="0" y2="160.88" stroke="#000" stroke-width="1.1"/>
<text x="-7.0" y="164.08" font-size="9" text-anchor="end" fill="#151515">26°N</text>
<line x1="-4" y1="200.15" x2="0" y2="200.15" stroke="#000" stroke-width="1.1"/>
<text x="-7.0" y="203.35" font-size="9" text-anchor="end" fill="#151515">25°N</text>
<line x1="15.50" y1="220.3" x2="15.50" y2="224.3" stroke="#000" stroke-width="1.1"/>
<text x="15.50" y="235.90" font-size="9.2" text-anchor="middle" fill="#151515">114°E</text>
<line x1="48.30" y1="220.3" x2="48.30" y2="224.3" stroke="#000" stroke-width="1.1"/>
<text x="48.30" y="235.90" font-size="9.2" text-anchor="middle" fill="#151515">115°E</text>
<line x1="81.10" y1="220.3" x2="81.10" y2="224.3" stroke="#000" stroke-width="1.1"/>
<text x="81.10" y="235.90" font-size="9.2" text-anchor="middle" fill="#151515">116°E</text>
<line x1="113.90" y1="220.3" x2="113.90" y2="224.3" stroke="#000" stroke-width="1.1"/>
<text x="113.90" y="235.90" font-size="9.2" text-anchor="middle" fill="#151515">117°E</text>
<line x1="146.70" y1="220.3" x2="146.70" y2="224.3" stroke="#000" stroke-width="1.1"/>
<text x="146.70" y="235.90" font-size="9.2" text-anchor="middle" fill="#151515">118°E</text>
</g>
<g transform="translate(30.3,547.3)">
<text x="25.48 28.48 32.47 37.72" y="-7.6" font-size="9.0" fill="#151515">(c)6</text><path d="M44.32,-15.45H50.02V-7.56H44.32ZM44.32,-11.65 50.02,-11.65" fill="none" stroke="#262626" stroke-width="0.85"/><text x="52.22 56.72 61.22 63.72 68.22" y="-7.6" font-size="9.0" fill="#151515">20:00</text><path d="M73.87,-15.26 81.47,-15.26M77.67,-15.26 75.58,-12.03 80.04,-12.41M79.09,-13.55 80.52,-12.12M74.82,-10.51 80.52,-10.51M77.67,-12.12 77.67,-7.85M73.68,-7.66 81.66,-7.66" fill="none" stroke="#262626" stroke-width="0.85"/><text x="82.72" y="-7.6" font-size="9.0" fill="#151515">7</text><path d="M89.32,-15.45H95.02V-7.56H89.32ZM89.32,-11.65 95.02,-11.65" fill="none" stroke="#262626" stroke-width="0.85"/><text x="97.22 101.72 106.22 108.72 113.22" y="-7.6" font-size="9.0" fill="#151515">08:00</text><path d="M122.67,-16.21 122.67,-15.16M118.87,-13.74 118.87,-14.97 126.47,-14.97 126.47,-13.74M119.82,-12.60 125.52,-12.60M120.29,-10.51 125.52,-10.51M122.67,-13.74 122.67,-10.51M122.67,-10.51 119.82,-7.28M123.14,-9.94 126.28,-7.37M120.77,-13.74 121.53,-13.17" fill="none" stroke="#262626" stroke-width="0.85"/><path d="M128.87,-14.88 130.01,-13.74M128.68,-8.32 130.29,-10.70M131.72,-15.45H136.47V-11.65H131.72ZM133.14,-11.65 131.72,-7.28M135.04,-11.65 135.04,-7.85 137.04,-7.85 137.04,-8.80" fill="none" stroke="#262626" stroke-width="0.85"/>
<g clip-path="url(#cl)">
<path d="M67.0,32.1C65.8,29.5 67.9,22.0 68.4,17.7C68.9,13.4 69.1,9.2 69.8,6.3C70.5,3.4 67.5,1.0 72.7,-0.0C78.0,-1.0 95.6,-0.6 101.3,-0.0C107.0,0.6 105.6,1.4 107.0,3.4C108.4,5.4 110.4,9.6 109.9,12.0C109.4,14.4 106.6,17.2 104.2,17.7C101.8,18.2 98.2,15.8 95.6,14.9C93.0,14.0 90.3,12.0 88.4,12.0C86.5,12.0 85.3,12.5 84.1,14.9C82.9,17.3 81.8,23.4 81.3,26.3C80.8,29.2 82.3,30.9 81.3,32.1C80.3,33.3 77.9,33.5 75.5,33.5C73.1,33.5 68.2,34.7 67.0,32.1Z" fill="#5a8f3e"/>
<path d="M122.8,6.3C123.8,4.6 128.2,2.9 129.9,3.4C131.6,3.9 133.0,7.3 132.8,9.2C132.6,11.1 129.9,14.2 128.5,14.9C127.1,15.6 125.2,14.8 124.2,13.4C123.2,12.0 121.8,8.0 122.8,6.3Z" fill="#5a8f3e"/>
<path d="M82.7,36.3C83.2,35.1 87.3,34.2 89.9,33.5C92.5,32.8 96.3,31.6 98.4,32.1C100.5,32.6 102.5,34.4 102.7,36.3C103.0,38.2 101.1,41.4 99.9,43.5C98.7,45.6 97.0,48.5 95.6,49.2C94.2,49.9 92.7,49.2 91.3,47.8C89.9,46.4 88.4,42.5 87.0,40.6C85.6,38.7 82.2,37.5 82.7,36.3Z" fill="#5a8f3e"/>
<path d="M62.7,33.5C63.3,32.5 65.6,33.2 67.0,34.9C68.4,36.6 71.3,41.6 71.3,43.5C71.3,45.4 68.3,46.9 67.0,46.4C65.7,45.9 64.2,42.8 63.5,40.6C62.8,38.5 62.1,34.5 62.7,33.5Z" fill="#5a8f3e"/>
<path d="M74.1,56.4C74.3,55.3 75.5,53.9 76.1,54.4C76.7,54.9 78.0,58.2 77.8,59.2C77.6,60.2 75.6,61.2 75.0,60.7C74.4,60.2 73.9,57.5 74.1,56.4Z" fill="#5a8f3e"/>
<path d="M-1.7,136.5C-0.3,126.5 4.0,134.8 6.9,135.1C9.8,135.3 13.1,136.6 15.5,138.0C17.9,139.4 19.5,143.2 21.2,143.7C22.9,144.2 24.1,142.7 25.5,140.8C26.9,138.9 27.9,135.5 29.8,132.2C31.7,128.9 34.0,124.1 36.9,120.8C39.8,117.5 44.3,115.5 46.9,112.2C49.5,108.9 51.3,105.6 52.7,100.8C54.1,96.0 54.8,88.8 55.5,83.6C56.2,78.3 55.9,72.9 56.9,69.3C57.9,65.7 59.5,63.1 61.2,62.1C62.9,61.1 65.3,61.8 67.0,63.5C68.7,65.2 69.9,71.1 71.3,72.1C72.7,73.1 73.8,70.0 75.5,69.3C77.2,68.6 80.1,66.8 81.3,67.8C82.5,68.8 82.7,72.8 82.7,75.0C82.7,77.2 80.6,79.3 81.3,80.7C82.0,82.1 84.6,82.9 87.0,83.6C89.4,84.3 93.2,85.0 95.6,85.0C98.0,85.0 99.4,84.8 101.3,83.6C103.2,82.4 105.6,80.3 107.0,77.9C108.4,75.5 108.5,72.2 109.9,69.3C111.3,66.4 113.2,63.1 115.6,60.7C118.0,58.3 120.9,56.0 124.2,55.0C127.5,54.0 132.7,54.0 135.6,55.0C138.5,56.0 140.7,58.8 141.4,60.7C142.1,62.6 139.4,64.5 139.9,66.4C140.4,68.3 143.2,69.7 144.2,72.1C145.2,74.5 146.2,78.3 145.7,80.7C145.2,83.1 143.6,84.5 141.4,86.4C139.2,88.3 135.7,89.8 132.8,92.2C129.9,94.6 126.1,97.5 124.2,100.8C122.3,104.1 121.3,108.4 121.3,112.2C121.3,116.0 122.8,120.4 124.2,123.7C125.6,127.0 128.5,129.3 129.9,132.2C131.3,135.0 132.8,137.5 132.8,140.8C132.8,144.2 131.3,149.4 129.9,152.3C128.5,155.2 125.6,156.1 124.2,158.0C122.8,159.9 122.7,162.3 121.3,163.7C119.9,165.1 118.4,165.2 115.6,166.6C112.8,168.0 107.1,170.9 104.2,172.3C101.3,173.7 99.8,176.1 98.4,175.2C97.0,174.2 97.0,169.0 95.6,166.6C94.2,164.2 91.8,160.9 89.9,160.9C88.0,160.9 86.5,164.7 84.1,166.6C81.7,168.5 77.9,170.4 75.5,172.3C73.1,174.2 71.7,177.8 69.8,178.0C67.9,178.2 65.5,176.2 64.1,173.8C62.7,171.4 63.1,164.9 61.2,163.7C59.3,162.5 55.6,165.6 52.7,166.6C49.9,167.6 47.5,168.6 44.1,169.5C40.8,170.4 36.0,171.6 32.6,172.3C29.2,173.0 26.9,173.1 24.0,173.8C21.1,174.5 17.9,175.4 15.5,176.6C13.1,177.8 11.6,179.2 9.7,180.9C7.8,182.6 5.4,184.2 4.0,186.6C2.6,189.0 2.0,193.8 1.1,195.2C0.2,196.6 -1.2,205.0 -1.7,195.2C-2.2,185.4 -3.1,146.5 -1.7,136.5Z" fill="#5a8f3e"/>
<path d="M89.9,189.5C89.9,188.1 92.7,185.2 94.1,185.2C95.5,185.2 98.4,188.1 98.4,189.5C98.4,190.9 95.5,193.8 94.1,193.8C92.7,193.8 89.9,190.9 89.9,189.5Z" fill="#5a8f3e"/>
<path d="M55.5,178 59.8,176.6 59.8,179.5Z" fill="#5a8f3e"/>
<path d="M87.0,160.9C86.5,158.8 89.9,154.7 91.3,153.7C92.7,152.7 95.1,152.9 95.6,155.1C96.1,157.2 95.5,165.6 94.1,166.6C92.7,167.6 87.5,163.1 87.0,160.9Z" fill="#ffffff"/>
<path d="M114.2,148.0C114.4,146.8 117.0,144.9 117.9,145.1C118.9,145.3 120.1,148.2 119.9,149.4C119.8,150.6 118.0,152.5 117.0,152.3C116.0,152.1 114.0,149.2 114.2,148.0Z" fill="#ffffff"/>
<path d="M8.3,153.7C8.5,152.5 12.6,150.7 14.0,150.9C15.4,151.1 17.1,153.9 16.9,155.1C16.7,156.3 14.0,158.2 12.6,158.0C11.2,157.8 8.1,154.9 8.3,153.7Z" fill="#ffffff"/>
<path d="M-1.7,138.0C0.2,131.1 7.1,138.5 9.7,139.4C12.3,140.3 14.0,142.0 14.0,143.7C14.0,145.4 9.9,147.0 9.7,149.4C9.5,151.8 12.3,154.7 12.6,158.0C12.8,161.3 12.1,166.2 11.2,169.5C10.2,172.8 9.1,176.1 6.9,178.0C4.8,179.9 -0.3,187.6 -1.7,180.9C-3.1,174.2 -3.6,144.9 -1.7,138.0Z" fill="#648cc4"/>
<path d="M22.6,158.0C22.9,155.4 23.8,150.4 25.5,146.6C27.2,142.8 30.0,138.9 32.6,135.1C35.2,131.3 38.3,127.5 41.2,123.7C44.1,119.9 47.4,116.5 49.8,112.2C52.2,107.9 54.1,103.6 55.5,97.9C56.9,92.2 57.0,82.4 58.4,77.9C59.8,73.4 62.2,71.2 64.1,70.7C66.0,70.2 68.4,72.8 69.8,75.0C71.2,77.2 70.8,81.9 72.7,83.6C74.6,85.3 78.4,84.0 81.3,85.0C84.2,86.0 86.6,88.8 89.9,89.3C93.2,89.8 98.5,89.3 101.3,87.9C104.1,86.5 104.6,82.9 107.0,80.7C109.4,78.5 112.7,76.2 115.6,75.0C118.5,73.8 121.6,73.4 124.2,73.6C126.8,73.8 129.9,74.7 131.3,76.4C132.7,78.1 133.0,81.4 132.8,83.6C132.6,85.8 131.3,87.4 129.9,89.3C128.5,91.2 126.1,92.6 124.2,95.0C122.3,97.4 120.4,100.7 118.5,103.6C116.6,106.5 115.1,109.3 112.7,112.2C110.3,115.1 106.6,117.9 104.2,120.8C101.8,123.7 100.8,127.0 98.4,129.4C96.0,131.8 93.2,132.7 89.9,135.1C86.6,137.5 82.2,141.3 78.4,143.7C74.6,146.1 70.8,147.5 67.0,149.4C63.2,151.3 59.3,153.7 55.5,155.1C51.7,156.5 47.9,157.0 44.1,158.0C40.3,159.0 36.0,160.2 32.6,160.9C29.2,161.6 25.7,162.8 24.0,162.3C22.3,161.8 22.4,160.6 22.6,158.0Z" fill="#648cc4"/>
<path d="M25.5,156.6C25.8,154.5 27.7,149.7 29.8,146.6C31.9,143.5 35.4,140.9 38.3,138.0C41.1,135.1 44.0,132.8 46.9,129.4C49.8,126.1 52.6,122.2 55.5,117.9C58.4,113.6 61.7,107.9 64.1,103.6C66.5,99.3 68.4,95.5 69.8,92.2C71.2,88.9 71.3,84.1 72.7,83.6C74.1,83.1 76.0,87.4 78.4,89.3C80.8,91.2 84.1,93.8 87.0,95.0C89.9,96.2 92.7,97.5 95.6,96.5C98.5,95.5 101.8,91.9 104.2,89.3C106.6,86.7 107.5,82.4 109.9,80.7C112.3,79.0 115.9,78.8 118.5,79.3C121.1,79.8 124.6,81.4 125.6,83.6C126.5,85.8 125.4,89.3 124.2,92.2C123.0,95.1 120.4,98.0 118.5,100.8C116.6,103.6 115.1,106.4 112.7,109.3C110.3,112.2 107.1,115.0 104.2,117.9C101.3,120.8 98.9,123.6 95.6,126.5C92.2,129.4 87.9,132.7 84.1,135.1C80.3,137.5 76.5,138.9 72.7,140.8C68.9,142.7 65.5,144.7 61.2,146.6C56.9,148.5 51.2,150.6 46.9,152.3C42.6,154.0 38.6,155.4 35.5,156.6C32.4,157.8 30.0,159.4 28.3,159.4C26.6,159.4 25.2,158.7 25.5,156.6Z" fill="#43325e"/>
<path d="M4.0,166.6C4.0,165.6 5.5,163.7 6.3,163.7C7.1,163.7 8.6,165.6 8.6,166.6C8.6,167.6 7.1,169.5 6.3,169.5C5.5,169.5 4.0,167.6 4.0,166.6Z" fill="#43325e"/>
<path d="M35.5,149.4C35.0,148.4 37.1,145.6 38.3,145.1C39.5,144.6 42.1,145.6 42.6,146.6C43.1,147.6 42.4,150.4 41.2,150.9C40.0,151.4 36.0,150.4 35.5,149.4Z" fill="#a85b96"/>
<path d="M39.8,138.0C39.8,136.6 44.3,134.6 46.9,132.2C49.5,129.8 53.1,127.0 55.5,123.7C57.9,120.4 59.5,115.6 61.2,112.2C62.9,108.8 63.6,106.0 65.5,103.6C67.4,101.2 70.1,98.4 72.7,97.9C75.3,97.4 79.4,98.9 81.3,100.8C83.2,102.7 84.6,107.4 84.1,109.3C83.6,111.2 79.8,110.8 78.4,112.2C77.0,113.6 75.0,116.0 75.5,117.9C76.0,119.8 78.9,123.2 81.3,123.7C83.7,124.2 87.5,120.8 89.9,120.8C92.3,120.8 95.6,122.3 95.6,123.7C95.6,125.1 92.3,128.0 89.9,129.4C87.5,130.8 84.2,131.2 81.3,132.2C78.4,133.1 75.6,134.8 72.7,135.1C69.8,135.3 66.2,134.4 64.1,133.7C61.9,133.0 60.3,130.6 59.8,130.8C59.3,131.0 61.9,133.7 61.2,135.1C60.5,136.5 57.9,138.4 55.5,139.4C53.1,140.4 49.5,141.0 46.9,140.8C44.3,140.6 39.8,139.4 39.8,138.0Z" fill="#a85b96"/>
<path d="M101.3,97.9C101.5,95.8 102.8,93.6 104.2,92.2C105.6,90.8 108.0,89.3 109.9,89.3C111.8,89.3 114.4,91.0 115.6,92.2C116.8,93.4 117.5,94.8 117.0,96.5C116.5,98.2 114.4,100.5 112.7,102.2C111.0,103.9 108.7,106.0 107.0,106.5C105.3,107.0 103.7,106.4 102.7,105.0C101.8,103.6 101.0,100.0 101.3,97.9Z" fill="#a85b96"/>
<path d="M58.4,127.9C58.6,126.7 63.1,124.8 65.5,125.1C67.9,125.3 72.9,128.2 72.7,129.4C72.5,130.6 66.5,132.4 64.1,132.2C61.7,131.9 58.2,129.1 58.4,127.9Z" fill="#43325e"/>
<path d="M71.5,121.4C71.7,120.9 72.9,120.5 73.3,120.8C73.7,121.1 74.0,122.6 73.8,123.1C73.6,123.6 72.5,124.0 72.1,123.7C71.7,123.4 71.3,121.9 71.5,121.4Z" fill="#c03a30"/>
</g>
<use href="#ol"/>
<rect x="0" y="0" width="163.2" height="220.3" fill="none" stroke="#000" stroke-width="1.5"/>
<line x1="-4" y1="3.80" x2="0" y2="3.80" stroke="#000" stroke-width="1.1"/>
<text x="-7.0" y="7.00" font-size="9" text-anchor="end" fill="#151515">30°N</text>
<line x1="-4" y1="43.07" x2="0" y2="43.07" stroke="#000" stroke-width="1.1"/>
<text x="-7.0" y="46.27" font-size="9" text-anchor="end" fill="#151515">29°N</text>
<line x1="-4" y1="82.34" x2="0" y2="82.34" stroke="#000" stroke-width="1.1"/>
<text x="-7.0" y="85.54" font-size="9" text-anchor="end" fill="#151515">28°N</text>
<line x1="-4" y1="121.61" x2="0" y2="121.61" stroke="#000" stroke-width="1.1"/>
<text x="-7.0" y="124.81" font-size="9" text-anchor="end" fill="#151515">27°N</text>
<line x1="-4" y1="160.88" x2="0" y2="160.88" stroke="#000" stroke-width="1.1"/>
<text x="-7.0" y="164.08" font-size="9" text-anchor="end" fill="#151515">26°N</text>
<line x1="-4" y1="200.15" x2="0" y2="200.15" stroke="#000" stroke-width="1.1"/>
<text x="-7.0" y="203.35" font-size="9" text-anchor="end" fill="#151515">25°N</text>
<line x1="15.50" y1="220.3" x2="15.50" y2="224.3" stroke="#000" stroke-width="1.1"/>
<text x="15.50" y="235.90" font-size="9.2" text-anchor="middle" fill="#151515">114°E</text>
<line x1="48.30" y1="220.3" x2="48.30" y2="224.3" stroke="#000" stroke-width="1.1"/>
<text x="48.30" y="235.90" font-size="9.2" text-anchor="middle" fill="#151515">115°E</text>
<line x1="81.10" y1="220.3" x2="81.10" y2="224.3" stroke="#000" stroke-width="1.1"/>
<text x="81.10" y="235.90" font-size="9.2" text-anchor="middle" fill="#151515">116°E</text>
<line x1="113.90" y1="220.3" x2="113.90" y2="224.3" stroke="#000" stroke-width="1.1"/>
<text x="113.90" y="235.90" font-size="9.2" text-anchor="middle" fill="#151515">117°E</text>
<line x1="146.70" y1="220.3" x2="146.70" y2="224.3" stroke="#000" stroke-width="1.1"/>
<text x="146.70" y="235.90" font-size="9.2" text-anchor="middle" fill="#151515">118°E</text>
</g>
<g transform="translate(238.8,19.7)">
<text x="-2.83 0.17 4.67 9.91 15.41" y="-7.6" font-size="9.0" fill="#151515">(d)EC</text><path d="M22.09,-13.55 25.41,-13.55M23.70,-15.64 23.70,-7.28M23.70,-13.07 22.09,-9.27M23.89,-12.60 25.41,-10.70M25.89,-14.88 30.73,-14.88M27.50,-15.92 27.50,-13.93M29.40,-15.92 29.40,-13.93M26.36,-13.55H30.16V-10.41H26.36ZM26.36,-12.03 30.16,-12.03M25.89,-9.37 30.73,-9.37M28.36,-10.41 26.36,-7.28M28.55,-9.18 30.73,-7.28" fill="none" stroke="#262626" stroke-width="0.85"/><path d="M32.37,-13.55 40.54,-13.55M33.04,-11.17 36.55,-11.17M34.75,-11.17 34.75,-8.23M32.56,-7.66 37.31,-8.51M37.50,-15.83 38.07,-11.17 40.73,-7.28 40.83,-8.80M39.02,-15.64 39.97,-14.69" fill="none" stroke="#262626" stroke-width="0.85"/><text x="41.41" y="-7.6" font-size="9.0" fill="#151515">5</text><path d="M48.01,-15.45H53.71V-7.56H48.01ZM48.01,-11.65 53.71,-11.65" fill="none" stroke="#262626" stroke-width="0.85"/><text x="55.91 60.41 64.91 67.41 71.91" y="-7.6" font-size="9.0" fill="#151515">08:00</text><path d="M77.56,-14.50 81.36,-14.50M79.46,-15.92 79.46,-12.60M77.09,-12.60 81.84,-12.60M79.27,-11.65 79.27,-8.80M79.27,-10.22 80.98,-10.22M77.75,-10.89 77.75,-8.61 85.73,-7.37M81.93,-15.26 85.16,-15.26 85.16,-12.03 82.41,-12.03 82.41,-8.80 85.73,-8.80 85.73,-9.94" fill="none" stroke="#262626" stroke-width="0.85"/><path d="M87.09,-13.55 90.03,-13.55M88.51,-15.92 88.51,-7.66 87.56,-8.23M87.09,-9.75 90.03,-11.27M90.98,-15.35 95.16,-15.35 95.16,-13.36 94.21,-12.60M90.98,-15.35 90.98,-7.28M90.98,-11.55 95.16,-11.55 93.64,-8.61 95.73,-7.28M92.31,-10.70 91.27,-7.85" fill="none" stroke="#262626" stroke-width="0.85"/><text x="96.41 100.91 105.41 110.28 114.78 121.53" y="-7.6" font-size="9.0" fill="#151515">12~24h</text><path d="M126.80,-14.50H129.65V-8.80H126.80ZM126.80,-11.65 129.65,-11.65M130.51,-13.55 135.35,-13.55M133.83,-15.92 133.83,-7.28 132.69,-7.85M131.46,-11.65 132.50,-10.13" fill="none" stroke="#262626" stroke-width="0.85"/><path d="M138.61,-16.02 138.99,-15.07M136.71,-14.50 140.60,-14.50M137.75,-13.55 136.80,-12.03M139.46,-13.55 140.60,-12.03M137.18,-11.65 140.03,-7.28M140.03,-11.65 136.71,-7.28M142.12,-15.92 140.98,-12.60M141.55,-13.55 145.35,-13.55M144.40,-13.55 140.98,-7.28M141.93,-11.46 145.35,-7.28" fill="none" stroke="#262626" stroke-width="0.85"/><path d="M146.71,-14.97 150.03,-14.97 148.13,-13.07M146.71,-12.12 150.60,-12.12 149.65,-11.08M148.61,-13.07 148.61,-7.28 147.66,-7.85M150.98,-15.45 155.35,-15.45M151.46,-14.02H154.88V-9.75H151.46ZM153.17,-14.02 153.17,-10.22M152.88,-9.75 150.98,-7.28M153.45,-9.18 155.35,-7.28" fill="none" stroke="#262626" stroke-width="0.85"/><path d="M156.71,-13.55 159.65,-13.55M158.13,-15.92 158.13,-7.66 157.18,-8.23M156.71,-9.75 159.65,-11.27M160.60,-15.35 164.78,-15.35 164.78,-13.36 163.83,-12.60M160.60,-15.35 160.60,-7.28M160.60,-11.55 164.78,-11.55 163.26,-8.61 165.35,-7.28M161.93,-10.70 160.89,-7.85" fill="none" stroke="#262626" stroke-width="0.85"/>
<g clip-path="url(#cl)">
<path d="M-0.7,9.9C-0.2,-6.6 1.5,10.0 2.4,10.7C3.3,11.3 4.5,12.7 4.7,13.8C5.0,15.0 3.3,17.1 3.9,17.6C4.5,18.1 6.7,17.3 8.5,16.8C10.3,16.3 12.9,15.0 14.7,14.5C16.5,14.0 18.0,13.5 19.3,13.8C20.6,14.1 21.1,15.0 22.4,16.1C23.7,17.2 25.2,19.6 27.0,20.7C28.8,21.8 31.1,22.6 33.1,23.0C35.1,23.4 37.2,23.5 39.3,23.0C41.3,22.5 43.3,20.9 45.4,19.9C47.5,18.9 49.5,17.8 51.6,16.8C53.7,15.8 55.7,15.0 57.7,13.8C59.8,12.7 62.7,11.1 63.9,9.9C65.1,8.7 65.2,7.2 64.7,6.8C64.2,6.4 62.5,7.1 60.8,7.6C59.1,8.1 56.8,9.4 54.7,9.9C52.7,10.4 50.2,10.8 48.5,10.7C46.8,10.6 45.3,10.1 44.7,9.1C44.1,8.1 44.6,6.3 44.7,4.5C44.8,2.7 26.4,-0.6 45.4,-1.6C64.4,-2.6 139.9,-3.1 158.9,-1.6C177.9,-0.1 160.3,5.0 159.7,7.6C159.0,10.2 156.0,12.0 155.0,13.8C154.0,15.6 153.0,17.2 153.5,18.4C154.0,19.5 156.3,20.4 158.1,20.7C159.9,20.9 163.3,16.9 164.3,19.9C165.3,22.8 165.3,34.8 164.3,38.4C163.3,42.0 160.2,40.5 158.1,41.5C156.0,42.5 154.1,43.0 152.0,44.5C149.9,46.0 147.6,48.7 145.8,50.7C144.0,52.8 143.0,54.8 141.2,56.8C139.4,58.8 137.3,61.0 135.0,63.0C132.7,65.0 130.0,67.6 127.4,69.1C124.9,70.6 122.3,71.4 119.7,72.2C117.1,73.0 114.6,73.4 112.0,73.8C109.4,74.2 106.9,74.2 104.3,74.5C101.7,74.8 99.2,74.6 96.6,75.3C94.0,76.0 91.5,76.9 88.9,78.4C86.3,79.9 82.8,83.2 81.2,84.5C79.6,85.8 80.4,85.3 79.3,86.1C78.2,86.9 75.7,87.6 74.7,89.1C73.7,90.6 73.9,93.5 73.1,95.3C72.3,97.1 71.8,98.9 70.0,99.9C68.2,100.9 65.0,101.5 62.4,101.5C59.9,101.5 57.3,100.4 54.7,99.9C52.1,99.4 49.0,99.2 47.0,98.4C45.0,97.6 43.9,96.1 42.4,95.3C40.9,94.5 38.7,94.6 37.7,93.8C36.7,93.0 35.7,91.7 36.2,90.7C36.7,89.7 39.3,88.4 40.8,87.6C42.3,86.8 43.9,86.6 45.4,86.1C46.9,85.6 49.5,85.0 50.0,84.5C50.5,84.0 49.8,83.0 48.5,83.0C47.2,83.0 44.2,84.2 42.4,84.5C40.6,84.8 39.2,84.2 37.7,84.5C36.2,84.8 34.6,85.6 33.1,86.1C31.6,86.6 29.5,86.6 28.5,87.6C27.5,88.6 27.5,90.7 27.0,92.2C26.5,93.7 26.7,95.5 25.4,96.8C24.1,98.1 21.6,99.1 19.3,99.9C17.0,100.7 13.9,101.0 11.6,101.5C9.3,102.0 6.9,102.2 5.4,103.0C3.9,103.8 3.4,104.9 2.4,106.1C1.4,107.2 -0.2,125.9 -0.7,109.9C-1.2,93.9 -1.2,26.4 -0.7,9.9Z" fill="#5a8f3e"/>
<path d="M-0.7,43.0C0.3,39.7 3.4,43.9 5.4,44.5C7.5,45.1 9.9,46.1 11.6,46.8C13.3,47.4 15.7,47.8 15.4,48.4C15.1,49.0 11.8,49.9 10.0,50.7C8.2,51.5 6.0,52.0 4.7,53.0C3.4,54.0 2.9,55.1 2.4,56.8C1.9,58.5 2.1,61.7 1.6,63.0C1.1,64.3 -0.3,67.8 -0.7,64.5C-1.1,61.2 -1.7,46.3 -0.7,43.0Z" fill="#648cc4"/>
<path d="M65.4,56.8C66.3,55.4 68.2,53.7 70.0,52.2C71.8,50.7 74.4,48.9 76.2,47.6C78.0,46.3 79.7,44.8 80.8,44.5C81.9,44.2 83.1,45.1 83.1,46.1C83.1,47.1 81.9,49.2 80.8,50.7C79.7,52.2 77.7,53.8 76.2,55.3C74.7,56.8 73.1,58.6 71.6,59.9C70.1,61.2 68.2,62.9 67.0,63.0C65.8,63.1 65.0,61.7 64.7,60.7C64.4,59.7 64.5,58.2 65.4,56.8Z" fill="#648cc4"/>
<path d="M88.1,-1.6C95.5,-2.6 125.0,-2.9 133.5,-1.6C142.0,-0.3 137.9,3.8 138.9,6.1C139.9,8.4 139.1,9.4 139.7,12.2C140.3,15.0 141.9,20.3 142.7,23.0C143.5,25.7 144.6,26.3 144.3,28.4C144.1,30.4 142.8,33.1 141.2,35.3C139.6,37.5 137.3,39.2 135.0,41.5C132.7,43.8 130.0,46.8 127.4,49.1C124.9,51.4 122.3,53.6 119.7,55.3C117.1,57.0 114.8,58.6 112.0,59.1C109.2,59.6 105.5,59.0 102.7,58.4C99.9,57.8 97.0,56.4 95.0,55.3C93.0,54.1 91.3,53.5 90.4,51.5C89.5,49.5 89.2,45.5 89.7,43.0C90.2,40.5 92.5,38.8 93.5,36.8C94.5,34.8 95.8,32.5 95.8,30.7C95.8,28.9 94.9,27.1 93.5,26.1C92.1,25.1 89.5,24.8 87.4,24.5C85.4,24.2 82.5,24.8 81.2,24.5C79.9,24.2 79.8,24.3 79.7,23.0C79.6,21.7 79.4,18.3 80.4,16.8C81.4,15.3 84.1,15.1 85.8,13.8C87.5,12.5 89.9,10.7 90.4,9.1C90.9,7.5 89.3,6.3 88.9,4.5C88.5,2.7 80.7,-0.6 88.1,-1.6Z" fill="#648cc4"/>
<path d="M172.0,-1.6C170.5,-2.1 165.6,-2.1 164.3,-1.6C163.0,-1.1 162.8,1.0 164.3,1.5C165.8,2.0 172.2,2.0 173.5,1.5C174.8,1.0 173.5,-1.1 172.0,-1.6Z" fill="#648cc4"/>
<path d="M101.2,22.2C101.8,21.4 104.0,20.4 105.8,20.7C107.6,21.0 111.7,22.9 112.0,23.8C112.3,24.7 108.7,25.5 107.4,26.1C106.1,26.7 105.2,27.7 104.3,27.6C103.4,27.5 102.5,26.2 102.0,25.3C101.5,24.4 100.6,23.0 101.2,22.2Z" fill="#43325e"/>
<path d="M53.9,47.6C54.1,45.4 56.3,42.3 57.7,41.5C59.1,40.7 61.1,42.0 62.4,43.0C63.7,44.0 65.7,45.6 65.4,47.6C65.1,49.6 62.3,54.1 60.8,55.3C59.3,56.4 57.4,55.8 56.2,54.5C55.1,53.2 53.6,49.8 53.9,47.6Z" fill="#ffffff"/>
</g>
<use href="#ol"/>
<rect x="0" y="0" width="163.2" height="220.3" fill="none" stroke="#000" stroke-width="1.5"/>
<line x1="-4" y1="3.80" x2="0" y2="3.80" stroke="#000" stroke-width="1.1"/>
<text x="-7.0" y="7.00" font-size="9" text-anchor="end" fill="#151515">30°N</text>
<line x1="-4" y1="43.07" x2="0" y2="43.07" stroke="#000" stroke-width="1.1"/>
<text x="-7.0" y="46.27" font-size="9" text-anchor="end" fill="#151515">29°N</text>
<line x1="-4" y1="82.34" x2="0" y2="82.34" stroke="#000" stroke-width="1.1"/>
<text x="-7.0" y="85.54" font-size="9" text-anchor="end" fill="#151515">28°N</text>
<line x1="-4" y1="121.61" x2="0" y2="121.61" stroke="#000" stroke-width="1.1"/>
<text x="-7.0" y="124.81" font-size="9" text-anchor="end" fill="#151515">27°N</text>
<line x1="-4" y1="160.88" x2="0" y2="160.88" stroke="#000" stroke-width="1.1"/>
<text x="-7.0" y="164.08" font-size="9" text-anchor="end" fill="#151515">26°N</text>
<line x1="-4" y1="200.15" x2="0" y2="200.15" stroke="#000" stroke-width="1.1"/>
<text x="-7.0" y="203.35" font-size="9" text-anchor="end" fill="#151515">25°N</text>
<line x1="15.50" y1="220.3" x2="15.50" y2="224.3" stroke="#000" stroke-width="1.1"/>
<text x="15.50" y="235.90" font-size="9.2" text-anchor="middle" fill="#151515">114°E</text>
<line x1="48.30" y1="220.3" x2="48.30" y2="224.3" stroke="#000" stroke-width="1.1"/>
<text x="48.30" y="235.90" font-size="9.2" text-anchor="middle" fill="#151515">115°E</text>
<line x1="81.10" y1="220.3" x2="81.10" y2="224.3" stroke="#000" stroke-width="1.1"/>
<text x="81.10" y="235.90" font-size="9.2" text-anchor="middle" fill="#151515">116°E</text>
<line x1="113.90" y1="220.3" x2="113.90" y2="224.3" stroke="#000" stroke-width="1.1"/>
<text x="113.90" y="235.90" font-size="9.2" text-anchor="middle" fill="#151515">117°E</text>
<line x1="146.70" y1="220.3" x2="146.70" y2="224.3" stroke="#000" stroke-width="1.1"/>
<text x="146.70" y="235.90" font-size="9.2" text-anchor="middle" fill="#151515">118°E</text>
</g>
<g transform="translate(238.8,282.6)">
<text x="-2.58 0.42 4.41 9.66 15.16" y="-7.6" font-size="9.0" fill="#151515">(e)EC</text><path d="M21.84,-13.55 25.16,-13.55M23.45,-15.64 23.45,-7.28M23.45,-13.07 21.84,-9.27M23.64,-12.60 25.16,-10.70M25.64,-14.88 30.48,-14.88M27.25,-15.92 27.25,-13.93M29.15,-15.92 29.15,-13.93M26.11,-13.55H29.91V-10.41H26.11ZM26.11,-12.03 29.91,-12.03M25.64,-9.37 30.48,-9.37M28.11,-10.41 26.11,-7.28M28.30,-9.18 30.48,-7.28" fill="none" stroke="#262626" stroke-width="0.85"/><path d="M32.12,-13.55 40.29,-13.55M32.79,-11.17 36.30,-11.17M34.50,-11.17 34.50,-8.23M32.31,-7.66 37.06,-8.51M37.25,-15.83 37.82,-11.17 40.48,-7.28 40.58,-8.80M38.77,-15.64 39.72,-14.69" fill="none" stroke="#262626" stroke-width="0.85"/><text x="41.16" y="-7.6" font-size="9.0" fill="#151515">5</text><path d="M47.76,-15.45H53.46V-7.56H47.76ZM47.76,-11.65 53.46,-11.65" fill="none" stroke="#262626" stroke-width="0.85"/><text x="55.66 60.16 64.66 67.16 71.66" y="-7.6" font-size="9.0" fill="#151515">20:00</text><path d="M77.31,-14.50 81.11,-14.50M79.21,-15.92 79.21,-12.60M76.84,-12.60 81.59,-12.60M79.02,-11.65 79.02,-8.80M79.02,-10.22 80.73,-10.22M77.50,-10.89 77.50,-8.61 85.48,-7.37M81.68,-15.26 84.91,-15.26 84.91,-12.03 82.16,-12.03 82.16,-8.80 85.48,-8.80 85.48,-9.94" fill="none" stroke="#262626" stroke-width="0.85"/><path d="M86.84,-13.55 89.78,-13.55M88.26,-15.92 88.26,-7.66 87.31,-8.23M86.84,-9.75 89.78,-11.27M90.73,-15.35 94.91,-15.35 94.91,-13.36 93.96,-12.60M90.73,-15.35 90.73,-7.28M90.73,-11.55 94.91,-11.55 93.39,-8.61 95.48,-7.28M92.06,-10.70 91.02,-7.85" fill="none" stroke="#262626" stroke-width="0.85"/><text x="96.16 100.66 105.16 110.03 114.53 121.28" y="-7.6" font-size="9.0" fill="#151515">12~24h</text><path d="M126.55,-14.50H129.40V-8.80H126.55ZM126.55,-11.65 129.40,-11.65M130.25,-13.55 135.10,-13.55M133.58,-15.92 133.58,-7.28 132.44,-7.85M131.20,-11.65 132.25,-10.13" fill="none" stroke="#262626" stroke-width="0.85"/><path d="M138.35,-16.02 138.73,-15.07M136.45,-14.50 140.35,-14.50M137.50,-13.55 136.55,-12.03M139.21,-13.55 140.35,-12.03M136.93,-11.65 139.78,-7.28M139.78,-11.65 136.45,-7.28M141.87,-15.92 140.73,-12.60M141.30,-13.55 145.10,-13.55M144.15,-13.55 140.73,-7.28M141.68,-11.46 145.10,-7.28" fill="none" stroke="#262626" stroke-width="0.85"/><path d="M146.45,-14.97 149.78,-14.97 147.88,-13.07M146.45,-12.12 150.35,-12.12 149.40,-11.08M148.35,-13.07 148.35,-7.28 147.40,-7.85M150.73,-15.45 155.10,-15.45M151.20,-14.02H154.62V-9.75H151.20ZM152.91,-14.02 152.91,-10.22M152.63,-9.75 150.73,-7.28M153.20,-9.18 155.10,-7.28" fill="none" stroke="#262626" stroke-width="0.85"/><path d="M156.45,-13.55 159.40,-13.55M157.88,-15.92 157.88,-7.66 156.93,-8.23M156.45,-9.75 159.40,-11.27M160.35,-15.35 164.53,-15.35 164.53,-13.36 163.58,-12.60M160.35,-15.35 160.35,-7.28M160.35,-11.55 164.53,-11.55 163.01,-8.61 165.10,-7.28M161.68,-10.70 160.63,-7.85" fill="none" stroke="#262626" stroke-width="0.85"/>
<g clip-path="url(#cl)">
<path d="M-1.2,89.0C0.2,82.3 5.0,85.7 7.4,84.7C9.8,83.8 11.2,82.1 13.1,83.3C15.0,84.5 16.7,89.3 18.8,91.9C20.9,94.5 23.1,98.0 26.0,99.0C28.9,100.0 32.4,98.5 36.0,97.6C39.6,96.6 43.6,95.2 47.4,93.3C51.2,91.4 55.5,88.7 58.9,86.1C62.2,83.5 65.8,80.0 67.5,77.6C69.2,75.2 69.4,73.9 68.9,71.8C68.4,69.7 66.3,66.9 64.6,64.7C62.9,62.6 60.8,60.8 58.9,58.9C57.0,57.0 54.6,55.3 53.2,53.2C51.8,51.1 51.0,49.0 50.3,46.1C49.6,43.2 47.0,38.1 48.9,36.0C50.8,33.9 57.2,33.4 61.7,33.2C66.2,33.0 71.7,34.4 76.0,34.6C80.3,34.8 85.1,35.6 87.5,34.6C89.9,33.6 89.5,31.3 90.4,28.9C91.4,26.5 91.8,23.2 93.2,20.3C94.6,17.4 97.0,14.1 98.9,11.7C100.8,9.3 102.8,8.0 104.7,6.0C106.6,4.0 103.5,0.7 110.4,-0.3C117.3,-1.3 140.0,-2.1 146.2,-0.3C152.4,1.5 148.3,7.8 147.6,10.3C146.9,12.8 142.4,13.2 141.9,14.6C141.4,16.0 142.3,18.4 144.7,18.9C147.1,19.4 153.3,18.4 156.2,17.4C159.1,16.4 160.5,14.0 161.9,13.1C163.3,12.2 164.3,-1.0 164.8,11.7C165.3,24.4 167.2,75.2 164.8,89.0C162.4,102.8 154.7,92.8 150.4,94.7C146.1,96.6 141.8,98.6 139.0,100.5C136.2,102.4 136.2,104.3 133.3,106.2C130.4,108.1 125.2,110.0 121.8,111.9C118.4,113.8 114.2,114.7 113.2,117.6C112.2,120.5 116.1,126.9 116.1,129.1C116.1,131.2 114.6,131.2 113.2,130.5C111.8,129.8 109.4,126.0 107.5,124.8C105.6,123.6 103.7,122.7 101.8,123.4C99.9,124.1 96.6,126.7 96.1,129.1C95.6,131.5 97.7,135.1 98.9,137.7C100.1,140.3 103.2,143.4 103.2,144.8C103.2,146.2 100.6,145.6 98.9,146.3C97.2,147.0 95.6,148.2 93.2,149.1C90.8,150.0 87.0,151.1 84.6,152.0C82.2,152.9 80.8,155.0 78.9,154.8C77.0,154.6 75.6,151.1 73.2,150.6C70.8,150.1 67.5,152.0 64.6,152.0C61.7,152.0 58.4,151.5 56.0,150.6C53.6,149.7 51.0,148.5 50.3,146.3C49.6,144.2 52.2,140.6 51.7,137.7C51.2,134.8 49.1,131.5 47.4,129.1C45.7,126.7 42.9,126.3 41.7,123.4C40.5,120.5 40.5,114.8 40.3,111.9C40.1,109.0 41.7,106.2 40.3,106.2C38.9,106.2 34.3,110.5 31.7,111.9C29.1,113.3 26.2,115.8 24.5,114.8C22.8,113.8 22.6,106.2 21.7,106.2C20.8,106.2 20.2,112.9 18.8,114.8C17.4,116.7 15.0,117.6 13.1,117.6C11.2,117.6 9.1,113.8 7.4,114.8C5.7,115.8 4.5,121.7 3.1,123.4C1.7,125.1 -0.5,130.5 -1.2,124.8C-1.9,119.1 -2.6,95.7 -1.2,89.0Z" fill="#5a8f3e"/>
<path d="M150.4,183.5C151.8,181.3 156.6,177.3 159.0,176.3C161.4,175.3 163.8,174.1 164.8,177.7C165.8,181.3 166.2,194.9 164.8,197.8C163.4,200.7 158.6,196.3 156.2,194.9C153.8,193.5 151.4,191.1 150.4,189.2C149.4,187.3 149.0,185.7 150.4,183.5Z" fill="#5a8f3e"/>
<path d="M129.0,206.4C129.2,204.8 133.7,201.4 136.1,201.2C138.5,200.9 141.4,203.3 143.3,204.9C145.2,206.5 147.6,209.1 147.6,210.7C147.6,212.3 145.5,214.4 143.3,214.4C141.2,214.4 137.1,212.0 134.7,210.7C132.3,209.4 128.8,208.0 129.0,206.4Z" fill="#5a8f3e"/>
<path d="M119.5,210.7C119.7,209.0 121.5,207.1 122.4,207.8C123.3,208.5 124.9,213.3 124.7,215.0C124.5,216.7 122.2,218.5 121.3,217.8C120.4,217.1 119.3,212.4 119.5,210.7Z" fill="#5a8f3e"/>
<path d="M130.4,194.3C131.0,193.1 135.3,189.7 136.7,189.8C138.1,189.9 139.6,193.7 139.0,194.9C138.4,196.1 134.7,197.0 133.3,196.9C131.9,196.8 129.8,195.5 130.4,194.3Z" fill="#5a8f3e"/>
<path d="M103.2,207.8C103.5,206.7 105.4,204.2 106.1,204.9C106.8,205.6 107.8,211.0 107.5,212.1C107.2,213.2 104.8,212.2 104.1,211.5C103.4,210.8 102.9,208.9 103.2,207.8Z" fill="#5a8f3e"/>
<path d="M112.7,194.9 114.4,192.6 115,196.6Z" fill="#5a8f3e"/>
<path d="M99.5,220.1 104.7,215.5 109,220.1Z" fill="#5a8f3e"/>
<path d="M150.4,150.6C150.9,149.6 154.8,147.5 156.2,147.7C157.6,147.9 159.5,151.0 159.0,152.0C158.5,153.0 154.7,153.9 153.3,153.7C151.9,153.5 149.9,151.6 150.4,150.6Z" fill="#5a8f3e"/>
<path d="M156.2,142 159.6,140 160.7,143.4Z" fill="#5a8f3e"/>
<path d="M-1.2,194.9C-0.5,193.5 5.6,189.1 7.4,188.6C9.2,188.1 10.4,190.7 9.7,192.1C9.0,193.5 4.9,196.4 3.1,196.9C1.3,197.4 -1.9,196.3 -1.2,194.9Z" fill="#5a8f3e"/>
<path d="M30.3,142.0C30.5,140.6 34.3,136.4 36.0,135.7C37.7,135.0 40.5,136.3 40.3,137.7C40.1,139.1 36.3,143.3 34.6,144.0C32.9,144.7 30.1,143.4 30.3,142.0Z" fill="#5a8f3e"/>
<path d="M41.7,146.3C42.1,145.2 45.9,142.2 47.4,142.0C48.9,141.8 51.3,143.8 50.9,144.8C50.5,145.9 46.6,148.1 45.1,148.3C43.6,148.6 41.3,147.4 41.7,146.3Z" fill="#5a8f3e"/>
<path d="M56.0,47.5C57.4,45.4 61.3,43.2 64.6,41.8C67.9,40.4 72.2,39.1 76.0,38.9C79.8,38.6 84.4,41.5 87.5,40.3C90.6,39.1 92.7,35.1 94.6,31.8C96.5,28.5 96.3,23.7 98.9,20.3C101.5,16.9 107.1,13.8 110.4,11.7C113.8,9.5 115.7,8.1 119.0,7.4C122.3,6.7 127.6,6.7 130.4,7.4C133.2,8.1 134.7,9.1 136.1,11.7C137.5,14.3 137.6,20.3 139.0,23.2C140.4,26.1 143.0,27.0 144.7,28.9C146.4,30.8 148.5,32.2 149.0,34.6C149.5,37.0 148.8,40.8 147.6,43.2C146.4,45.6 144.3,47.2 141.9,48.9C139.5,50.6 136.2,52.0 133.3,53.2C130.4,54.4 127.1,54.0 124.7,56.1C122.3,58.2 120.9,62.5 119.0,66.1C117.1,69.7 115.6,74.5 113.2,77.6C110.8,80.7 108.0,83.3 104.7,84.7C101.4,86.1 96.6,85.4 93.2,86.1C89.8,86.8 87.0,89.5 84.6,89.0C82.2,88.5 80.3,85.7 78.9,83.3C77.5,80.9 77.9,77.1 76.0,74.7C74.1,72.3 69.9,70.9 67.5,69.0C65.1,67.1 63.6,65.6 61.7,63.2C59.8,60.8 57.0,57.3 56.0,54.7C55.0,52.1 54.6,49.6 56.0,47.5Z" fill="#648cc4"/>
<path d="M56.0,97.0C57.2,96.6 62.7,95.7 64.0,95.9C65.3,96.1 65.2,97.8 64.0,98.2C62.8,98.6 57.9,98.7 56.6,98.5C55.3,98.3 54.8,97.4 56.0,97.0Z" fill="#648cc4"/>
<path d="M96.1,50.4C95.9,49.6 98.7,48.2 100.4,48.1C102.1,48.0 105.9,48.8 106.1,49.5C106.3,50.2 103.5,52.5 101.8,52.6C100.1,52.8 96.3,51.1 96.1,50.4Z" fill="#5a8f3e"/>
<path d="M96.1,31.8C96.6,28.5 99.4,23.2 101.8,20.3C104.2,17.4 108.0,16.5 110.4,14.6C112.8,12.7 113.7,9.8 116.1,8.9C118.5,8.0 122.5,7.0 124.7,8.9C126.9,10.8 128.1,17.0 129.0,20.3C129.9,23.6 128.7,26.5 130.4,28.9C132.1,31.3 137.1,32.2 139.0,34.6C140.9,37.0 142.4,40.8 141.9,43.2C141.4,45.6 138.7,47.7 136.1,48.9C133.5,50.1 129.4,50.9 126.1,50.4C122.8,49.9 119.2,47.8 116.1,46.1C113.0,44.4 110.4,41.3 107.5,40.3C104.6,39.3 100.8,41.7 98.9,40.3C97.0,38.9 95.6,35.1 96.1,31.8Z" fill="#43325e"/>
<path d="M86.1,66.1C87.0,63.9 90.6,62.8 93.2,61.8C95.8,60.8 98.9,61.6 101.8,60.4C104.7,59.2 108.0,55.4 110.4,54.7C112.8,54.0 115.4,54.7 116.1,56.1C116.8,57.5 116.6,60.6 114.7,63.2C112.8,65.8 107.8,69.7 104.7,71.8C101.6,73.9 99.0,75.6 96.1,76.1C93.2,76.6 89.2,76.4 87.5,74.7C85.8,73.0 85.1,68.2 86.1,66.1Z" fill="#43325e"/>
<path d="M98.9,28.9C99.9,26.8 102.6,23.1 104.7,21.7C106.8,20.3 110.4,19.6 111.8,20.3C113.2,21.0 113.4,23.9 113.2,26.0C113.0,28.1 111.4,31.1 110.4,33.2C109.5,35.4 108.9,38.0 107.5,38.9C106.1,39.8 103.2,39.6 101.8,38.9C100.4,38.2 99.4,36.3 98.9,34.6C98.4,32.9 97.9,31.0 98.9,28.9Z" fill="#a85b96"/>
<path d="M24.5,106.2C24.8,105.1 28.6,103.7 30.3,103.9C32.0,104.1 34.9,106.5 34.6,107.6C34.4,108.7 30.5,110.7 28.8,110.5C27.1,110.3 24.2,107.3 24.5,106.2Z" fill="#ffffff"/>
</g>
<use href="#ol"/>
<rect x="0" y="0" width="163.2" height="220.3" fill="none" stroke="#000" stroke-width="1.5"/>
<line x1="-4" y1="3.80" x2="0" y2="3.80" stroke="#000" stroke-width="1.1"/>
<text x="-7.0" y="7.00" font-size="9" text-anchor="end" fill="#151515">30°N</text>
<line x1="-4" y1="43.07" x2="0" y2="43.07" stroke="#000" stroke-width="1.1"/>
<text x="-7.0" y="46.27" font-size="9" text-anchor="end" fill="#151515">29°N</text>
<line x1="-4" y1="82.34" x2="0" y2="82.34" stroke="#000" stroke-width="1.1"/>
<text x="-7.0" y="85.54" font-size="9" text-anchor="end" fill="#151515">28°N</text>
<line x1="-4" y1="121.61" x2="0" y2="121.61" stroke="#000" stroke-width="1.1"/>
<text x="-7.0" y="124.81" font-size="9" text-anchor="end" fill="#151515">27°N</text>
<line x1="-4" y1="160.88" x2="0" y2="160.88" stroke="#000" stroke-width="1.1"/>
<text x="-7.0" y="164.08" font-size="9" text-anchor="end" fill="#151515">26°N</text>
<line x1="-4" y1="200.15" x2="0" y2="200.15" stroke="#000" stroke-width="1.1"/>
<text x="-7.0" y="203.35" font-size="9" text-anchor="end" fill="#151515">25°N</text>
<line x1="15.50" y1="220.3" x2="15.50" y2="224.3" stroke="#000" stroke-width="1.1"/>
<text x="15.50" y="235.90" font-size="9.2" text-anchor="middle" fill="#151515">114°E</text>
<line x1="48.30" y1="220.3" x2="48.30" y2="224.3" stroke="#000" stroke-width="1.1"/>
<text x="48.30" y="235.90" font-size="9.2" text-anchor="middle" fill="#151515">115°E</text>
<line x1="81.10" y1="220.3" x2="81.10" y2="224.3" stroke="#000" stroke-width="1.1"/>
<text x="81.10" y="235.90" font-size="9.2" text-anchor="middle" fill="#151515">116°E</text>
<line x1="113.90" y1="220.3" x2="113.90" y2="224.3" stroke="#000" stroke-width="1.1"/>
<text x="113.90" y="235.90" font-size="9.2" text-anchor="middle" fill="#151515">117°E</text>
<line x1="146.70" y1="220.3" x2="146.70" y2="224.3" stroke="#000" stroke-width="1.1"/>
<text x="146.70" y="235.90" font-size="9.2" text-anchor="middle" fill="#151515">118°E</text>
</g>
<g transform="translate(238.8,547.3)">
<text x="-2.08 0.92 3.91 9.16 14.66" y="-7.6" font-size="9.0" fill="#151515">(f)EC</text><path d="M21.34,-13.55 24.66,-13.55M22.95,-15.64 22.95,-7.28M22.95,-13.07 21.34,-9.27M23.14,-12.60 24.66,-10.70M25.14,-14.88 29.98,-14.88M26.75,-15.92 26.75,-13.93M28.65,-15.92 28.65,-13.93M25.61,-13.55H29.41V-10.41H25.61ZM25.61,-12.03 29.41,-12.03M25.14,-9.37 29.98,-9.37M27.61,-10.41 25.61,-7.28M27.80,-9.18 29.98,-7.28" fill="none" stroke="#262626" stroke-width="0.85"/><path d="M31.62,-13.55 39.79,-13.55M32.29,-11.17 35.80,-11.17M34.00,-11.17 34.00,-8.23M31.81,-7.66 36.56,-8.51M36.75,-15.83 37.32,-11.17 39.98,-7.28 40.08,-8.80M38.27,-15.64 39.22,-14.69" fill="none" stroke="#262626" stroke-width="0.85"/><text x="40.66" y="-7.6" font-size="9.0" fill="#151515">6</text><path d="M47.26,-15.45H52.96V-7.56H47.26ZM47.26,-11.65 52.96,-11.65" fill="none" stroke="#262626" stroke-width="0.85"/><text x="55.16 59.66 64.16 66.66 71.16" y="-7.6" font-size="9.0" fill="#151515">08:00</text><path d="M76.81,-14.50 80.61,-14.50M78.71,-15.92 78.71,-12.60M76.34,-12.60 81.09,-12.60M78.52,-11.65 78.52,-8.80M78.52,-10.22 80.23,-10.22M77.00,-10.89 77.00,-8.61 84.98,-7.37M81.18,-15.26 84.41,-15.26 84.41,-12.03 81.66,-12.03 81.66,-8.80 84.98,-8.80 84.98,-9.94" fill="none" stroke="#262626" stroke-width="0.85"/><path d="M86.34,-13.55 89.28,-13.55M87.76,-15.92 87.76,-7.66 86.81,-8.23M86.34,-9.75 89.28,-11.27M90.23,-15.35 94.41,-15.35 94.41,-13.36 93.46,-12.60M90.23,-15.35 90.23,-7.28M90.23,-11.55 94.41,-11.55 92.89,-8.61 94.98,-7.28M91.56,-10.70 90.52,-7.85" fill="none" stroke="#262626" stroke-width="0.85"/><text x="95.66 100.16 104.66 109.53 114.03 120.78" y="-7.6" font-size="9.0" fill="#151515">12~24h</text><path d="M126.05,-14.50H128.90V-8.80H126.05ZM126.05,-11.65 128.90,-11.65M129.75,-13.55 134.60,-13.55M133.08,-15.92 133.08,-7.28 131.94,-7.85M130.70,-11.65 131.75,-10.13" fill="none" stroke="#262626" stroke-width="0.85"/><path d="M137.85,-16.02 138.23,-15.07M135.95,-14.50 139.85,-14.50M137.00,-13.55 136.05,-12.03M138.71,-13.55 139.85,-12.03M136.43,-11.65 139.28,-7.28M139.28,-11.65 135.95,-7.28M141.37,-15.92 140.23,-12.60M140.80,-13.55 144.60,-13.55M143.65,-13.55 140.23,-7.28M141.18,-11.46 144.60,-7.28" fill="none" stroke="#262626" stroke-width="0.85"/><path d="M145.95,-14.97 149.28,-14.97 147.38,-13.07M145.95,-12.12 149.85,-12.12 148.90,-11.08M147.85,-13.07 147.85,-7.28 146.90,-7.85M150.23,-15.45 154.60,-15.45M150.70,-14.02H154.12V-9.75H150.70ZM152.41,-14.02 152.41,-10.22M152.13,-9.75 150.23,-7.28M152.70,-9.18 154.60,-7.28" fill="none" stroke="#262626" stroke-width="0.85"/><path d="M155.95,-13.55 158.90,-13.55M157.38,-15.92 157.38,-7.66 156.43,-8.23M155.95,-9.75 158.90,-11.27M159.85,-15.35 164.03,-15.35 164.03,-13.36 163.08,-12.60M159.85,-15.35 159.85,-7.28M159.85,-11.55 164.03,-11.55 162.51,-8.61 164.60,-7.28M161.18,-10.70 160.13,-7.85" fill="none" stroke="#262626" stroke-width="0.85"/>
<g clip-path="url(#cl)">
<path d="M71.8,26.3C71.1,23.7 69.6,18.7 70.3,14.9C71.0,11.1 74.6,5.9 76.0,3.4C77.4,0.9 75.6,0.6 78.9,-0.0C82.2,-0.6 92.8,-1.5 96.1,-0.0C99.4,1.5 98.2,6.2 98.9,9.2C99.6,12.1 100.9,15.3 100.4,17.7C99.9,20.1 98.2,22.1 96.1,23.5C93.9,24.9 90.4,25.4 87.5,26.3C84.6,27.2 81.1,28.5 78.9,29.2C76.8,29.9 75.8,31.1 74.6,30.6C73.4,30.1 72.5,28.9 71.8,26.3Z" fill="#5a8f3e"/>
<path d="M94.6,34.9C94.4,32.5 94.9,30.4 96.1,29.2C97.3,28.0 100.1,27.3 101.8,27.8C103.5,28.3 105.1,30.4 106.1,32.1C107.0,33.8 108.0,36.1 107.5,37.8C107.0,39.5 104.9,41.1 103.2,42.1C101.5,43.1 98.9,44.7 97.5,43.5C96.1,42.3 94.8,37.3 94.6,34.9Z" fill="#5a8f3e"/>
<path d="M-1.2,106.5C0.7,98.4 5.4,105.5 10.2,103.6C15.0,101.7 21.2,97.9 27.4,95.0C33.6,92.1 41.2,88.8 47.4,86.4C53.6,84.0 59.8,82.8 64.6,80.7C69.4,78.6 72.2,76.5 76.0,73.6C79.8,70.7 83.7,67.3 87.5,63.5C91.3,59.7 95.1,54.5 98.9,50.7C102.7,46.9 106.6,43.7 110.4,40.6C114.2,37.5 118.0,35.0 121.8,32.1C125.6,29.2 130.0,25.6 133.3,23.5C136.7,21.4 139.5,20.2 141.9,19.2C144.3,18.2 145.2,17.5 147.6,17.7C150.0,17.9 153.3,21.1 156.2,20.6C159.1,20.1 163.4,9.2 164.8,14.9C166.2,20.6 166.0,47.1 164.8,55.0C163.6,62.9 160.0,59.7 157.6,62.1C155.2,64.5 153.0,66.7 150.4,69.3C147.8,71.9 144.3,75.8 141.9,77.9C139.5,80.0 135.6,81.4 136.1,82.1C136.6,82.8 141.8,81.6 144.7,82.1C147.6,82.6 151.2,83.3 153.3,85.0C155.5,86.7 157.1,89.6 157.6,92.2C158.1,94.8 158.3,98.7 156.2,100.8C154.0,102.9 148.0,103.6 144.7,105.0C141.3,106.4 138.9,107.4 136.1,109.3C133.2,111.2 130.4,114.1 127.6,116.5C124.8,118.9 121.4,122.8 119.0,123.7C116.6,124.7 115.1,123.2 113.2,122.2C111.3,121.2 109.4,117.9 107.5,117.9C105.6,117.9 104.2,120.8 101.8,122.2C99.4,123.6 96.1,124.8 93.2,126.5C90.3,128.2 87.5,129.8 84.6,132.2C81.7,134.6 78.4,138.4 76.0,140.8C73.6,143.2 72.7,145.6 70.3,146.6C67.9,147.6 64.5,147.3 61.7,146.6C58.9,145.9 56.5,143.7 53.2,142.3C49.9,140.9 44.6,139.2 41.7,138.0C38.8,136.8 36.5,136.5 36.0,135.1C35.5,133.7 39.3,130.6 38.8,129.4C38.3,128.2 35.5,127.9 33.1,127.9C30.7,127.9 26.9,128.2 24.5,129.4C22.1,130.6 20.7,133.7 18.8,135.1C16.9,136.5 15.0,136.1 13.1,138.0C11.2,139.9 9.1,144.2 7.4,146.6C5.7,149.0 4.5,151.4 3.1,152.3C1.7,153.2 -0.5,159.9 -1.2,152.3C-1.9,144.7 -3.1,114.6 -1.2,106.5Z" fill="#5a8f3e"/>
<path d="M20.2,145.1C20.4,143.2 23.3,136.3 24.5,135.1C25.7,133.9 27.6,136.1 27.4,138.0C27.2,139.9 24.3,145.4 23.1,146.6C21.9,147.8 20.0,147.0 20.2,145.1Z" fill="#5a8f3e"/>
<path d="M-1.2,199.5C-1.2,197.3 2.8,191.9 4.5,189.5C6.2,187.1 7.6,185.2 8.8,185.2C10.0,185.2 11.5,187.3 11.7,189.5C11.9,191.7 11.4,195.9 10.2,198.1C9.0,200.2 6.4,202.2 4.5,202.4C2.6,202.6 -1.2,201.7 -1.2,199.5Z" fill="#5a8f3e"/>
<path d="M161.3,82.1C161.9,80.6 164.2,79.3 164.8,80.7C165.4,82.1 165.4,89.2 164.8,90.7C164.2,92.2 161.9,91.3 161.3,89.9C160.7,88.5 160.7,83.6 161.3,82.1Z" fill="#5a8f3e"/>
<path d="M148.4,209 149.9,208.4 150.2,210.4Z" fill="#5a8f3e"/>
<path d="M-1.2,123.7C0.2,121.8 5.0,121.3 7.4,119.4C9.8,117.5 10.7,114.4 13.1,112.2C15.5,110.0 17.9,108.4 21.7,106.5C25.5,104.6 30.8,103.0 36.0,100.8C41.2,98.6 48.0,96.0 53.2,93.6C58.5,91.2 62.7,89.5 67.5,86.4C72.3,83.3 77.5,79.0 81.8,75.0C86.1,71.0 89.4,66.2 93.2,62.1C97.0,58.1 100.9,53.8 104.7,50.7C108.5,47.6 112.3,46.1 116.1,43.5C119.9,40.9 124.3,37.5 127.6,34.9C130.9,32.3 133.2,29.5 136.1,27.8C138.9,26.1 142.3,24.7 144.7,24.9C147.1,25.1 148.7,27.1 150.4,29.2C152.1,31.3 154.2,34.9 154.7,37.8C155.2,40.7 155.0,43.1 153.3,46.4C151.6,49.7 147.6,54.0 144.7,57.8C141.8,61.6 139.4,65.5 136.1,69.3C132.8,73.1 128.5,76.4 124.7,80.7C120.9,85.0 117.5,91.9 113.2,95.0C108.9,98.1 103.7,98.8 98.9,99.3C94.1,99.8 87.9,97.2 84.6,97.9C81.3,98.6 80.3,100.7 78.9,103.6C77.5,106.5 77.4,113.4 76.0,115.1C74.6,116.8 72.2,114.1 70.3,113.6C68.4,113.1 67.4,112.0 64.6,112.2C61.7,112.5 57.5,114.1 53.2,115.1C48.9,116.0 43.6,117.0 38.8,117.9C34.0,118.9 28.8,119.6 24.5,120.8C20.2,122.0 16.4,123.7 13.1,125.1C9.8,126.5 6.9,128.4 4.5,129.4C2.1,130.4 -0.2,131.8 -1.2,130.8C-2.1,129.9 -2.6,125.6 -1.2,123.7Z" fill="#648cc4"/>
<path d="M81.8,80.7C80.8,78.8 80.8,75.0 81.8,72.1C82.8,69.2 85.1,66.3 87.5,63.5C89.9,60.6 92.8,57.4 96.1,55.0C99.4,52.6 103.7,51.1 107.5,49.2C111.3,47.3 115.2,45.4 119.0,43.5C122.8,41.6 127.1,39.7 130.4,37.8C133.7,35.9 136.8,33.3 139.0,32.1C141.2,30.9 141.9,29.7 143.3,30.6C144.7,31.6 146.7,35.2 147.6,37.8C148.5,40.4 149.5,43.5 149.0,46.4C148.5,49.3 146.8,52.1 144.7,55.0C142.5,57.9 138.9,60.6 136.1,63.5C133.2,66.3 130.4,69.7 127.6,72.1C124.8,74.5 122.3,76.2 119.0,77.9C115.7,79.6 111.3,81.1 107.5,82.1C103.7,83.0 99.4,83.3 96.1,83.6C92.8,83.8 89.9,84.1 87.5,83.6C85.1,83.1 82.8,82.6 81.8,80.7Z" fill="#43325e"/>
<path d="M37.4,106.5C37.6,105.3 39.6,102.5 41.7,100.8C43.9,99.1 47.7,97.5 50.3,96.5C52.9,95.5 56.0,94.5 57.4,95.0C58.8,95.5 59.6,97.9 58.9,99.3C58.2,100.7 55.6,102.4 53.2,103.6C50.8,104.8 46.8,105.8 44.6,106.5C42.5,107.2 41.5,107.9 40.3,107.9C39.1,107.9 37.2,107.7 37.4,106.5Z" fill="#43325e"/>
<path d="M88.9,75.0C89.1,73.6 91.1,70.0 93.2,67.8C95.3,65.6 98.9,64.0 101.8,62.1C104.7,60.2 107.1,57.8 110.4,56.4C113.7,55.0 118.7,53.7 121.8,53.5C124.9,53.3 127.6,54.0 129.0,55.0C130.4,56.0 131.1,57.8 130.4,59.2C129.7,60.6 127.1,62.1 124.7,63.5C122.3,64.9 119.0,66.4 116.1,67.8C113.2,69.2 110.4,70.9 107.5,72.1C104.6,73.3 101.5,74.3 98.9,75.0C96.3,75.7 93.5,76.4 91.8,76.4C90.1,76.4 88.7,76.4 88.9,75.0Z" fill="#a85b96"/>
<path d="M104.7,63.0C104.9,62.0 106.1,59.8 107.5,59.2C108.9,58.6 111.8,58.7 113.2,59.2C114.6,59.7 116.3,61.1 116.1,62.1C115.9,63.1 113.5,64.9 111.8,65.5C110.1,66.1 107.3,65.9 106.1,65.5C104.9,65.1 104.5,64.0 104.7,63.0Z" fill="#c03a30"/>
</g>
<use href="#ol"/>
<rect x="0" y="0" width="163.2" height="220.3" fill="none" stroke="#000" stroke-width="1.5"/>
<line x1="-4" y1="3.80" x2="0" y2="3.80" stroke="#000" stroke-width="1.1"/>
<text x="-7.0" y="7.00" font-size="9" text-anchor="end" fill="#151515">30°N</text>
<line x1="-4" y1="43.07" x2="0" y2="43.07" stroke="#000" stroke-width="1.1"/>
<text x="-7.0" y="46.27" font-size="9" text-anchor="end" fill="#151515">29°N</text>
<line x1="-4" y1="82.34" x2="0" y2="82.34" stroke="#000" stroke-width="1.1"/>
<text x="-7.0" y="85.54" font-size="9" text-anchor="end" fill="#151515">28°N</text>
<line x1="-4" y1="121.61" x2="0" y2="121.61" stroke="#000" stroke-width="1.1"/>
<text x="-7.0" y="124.81" font-size="9" text-anchor="end" fill="#151515">27°N</text>
<line x1="-4" y1="160.88" x2="0" y2="160.88" stroke="#000" stroke-width="1.1"/>
<text x="-7.0" y="164.08" font-size="9" text-anchor="end" fill="#151515">26°N</text>
<line x1="-4" y1="200.15" x2="0" y2="200.15" stroke="#000" stroke-width="1.1"/>
<text x="-7.0" y="203.35" font-size="9" text-anchor="end" fill="#151515">25°N</text>
<line x1="15.50" y1="220.3" x2="15.50" y2="224.3" stroke="#000" stroke-width="1.1"/>
<text x="15.50" y="235.90" font-size="9.2" text-anchor="middle" fill="#151515">114°E</text>
<line x1="48.30" y1="220.3" x2="48.30" y2="224.3" stroke="#000" stroke-width="1.1"/>
<text x="48.30" y="235.90" font-size="9.2" text-anchor="middle" fill="#151515">115°E</text>
<line x1="81.10" y1="220.3" x2="81.10" y2="224.3" stroke="#000" stroke-width="1.1"/>
<text x="81.10" y="235.90" font-size="9.2" text-anchor="middle" fill="#151515">116°E</text>
<line x1="113.90" y1="220.3" x2="113.90" y2="224.3" stroke="#000" stroke-width="1.1"/>
<text x="113.90" y="235.90" font-size="9.2" text-anchor="middle" fill="#151515">117°E</text>
<line x1="146.70" y1="220.3" x2="146.70" y2="224.3" stroke="#000" stroke-width="1.1"/>
<text x="146.70" y="235.90" font-size="9.2" text-anchor="middle" fill="#151515">118°E</text>
</g>
<g transform="translate(449.7,19.7)">
<text x="-7.08 -4.08 0.42" y="-7.6" font-size="9.0" fill="#151515">(g)</text><path d="M10.61,-16.21 10.61,-15.16M6.81,-13.74 6.81,-14.97 14.41,-14.97 14.41,-13.74M9.85,-13.74 7.76,-11.17M9.66,-13.07 12.70,-13.07 8.71,-9.94M10.23,-12.03 14.22,-10.13M8.71,-9.75H12.51V-7.28H8.71Z" fill="none" stroke="#262626" stroke-width="0.85"/><path d="M16.34,-14.50 19.66,-14.50 16.81,-7.47M17.29,-12.60 20.23,-7.47M20.61,-15.45H24.41V-10.70H20.61ZM22.51,-14.02 22.51,-11.65M21.66,-10.70 20.61,-7.28M23.46,-10.70 23.46,-7.85 25.17,-7.85 25.17,-8.80" fill="none" stroke="#262626" stroke-width="0.85"/><path d="M26.81,-15.64 27.76,-14.50M26.34,-12.60 27.76,-12.60 27.76,-8.23 28.71,-9.18M29.66,-14.50 34.98,-14.50M32.51,-14.50 32.51,-7.28 31.56,-7.85" fill="none" stroke="#262626" stroke-width="0.85"/><path d="M36.81,-15.45 44.41,-15.45M40.61,-15.45 40.61,-7.66M40.61,-11.46 44.03,-11.46M38.24,-12.12 38.24,-7.66M36.34,-7.66 44.89,-7.66" fill="none" stroke="#262626" stroke-width="0.85"/><text x="45.66" y="-7.6" font-size="9.0" fill="#151515">5</text><path d="M52.26,-15.45H57.96V-7.56H52.26ZM52.26,-11.65 57.96,-11.65" fill="none" stroke="#262626" stroke-width="0.85"/><text x="60.16 64.66 69.16 71.66 76.16" y="-7.6" font-size="9.0" fill="#151515">08:00</text><path d="M81.81,-14.50 85.61,-14.50M83.71,-15.92 83.71,-12.60M81.34,-12.60 86.09,-12.60M83.52,-11.65 83.52,-8.80M83.52,-10.22 85.23,-10.22M82.00,-10.89 82.00,-8.61 89.98,-7.37M86.18,-15.26 89.41,-15.26 89.41,-12.03 86.66,-12.03 86.66,-8.80 89.98,-8.80 89.98,-9.94" fill="none" stroke="#262626" stroke-width="0.85"/><path d="M91.34,-13.55 94.28,-13.55M92.76,-15.92 92.76,-7.66 91.81,-8.23M91.34,-9.75 94.28,-11.27M95.23,-15.35 99.41,-15.35 99.41,-13.36 98.46,-12.60M95.23,-15.35 95.23,-7.28M95.23,-11.55 99.41,-11.55 97.89,-8.61 99.98,-7.28M96.56,-10.70 95.52,-7.85" fill="none" stroke="#262626" stroke-width="0.85"/><text x="100.66 105.16 109.66 114.53 119.03 125.78" y="-7.6" font-size="9.0" fill="#151515">12~24h</text><path d="M131.05,-14.50H133.90V-8.80H131.05ZM131.05,-11.65 133.90,-11.65M134.76,-13.55 139.60,-13.55M138.08,-15.92 138.08,-7.28 136.94,-7.85M135.71,-11.65 136.75,-10.13" fill="none" stroke="#262626" stroke-width="0.85"/><path d="M142.86,-16.02 143.24,-15.07M140.96,-14.50 144.85,-14.50M142.00,-13.55 141.05,-12.03M143.71,-13.55 144.85,-12.03M141.43,-11.65 144.28,-7.28M144.28,-11.65 140.96,-7.28M146.37,-15.92 145.23,-12.60M145.80,-13.55 149.60,-13.55M148.65,-13.55 145.23,-7.28M146.18,-11.46 149.60,-7.28" fill="none" stroke="#262626" stroke-width="0.85"/><path d="M150.96,-14.97 154.28,-14.97 152.38,-13.07M150.96,-12.12 154.85,-12.12 153.90,-11.08M152.86,-13.07 152.86,-7.28 151.91,-7.85M155.23,-15.45 159.60,-15.45M155.71,-14.02H159.13V-9.75H155.71ZM157.42,-14.02 157.42,-10.22M157.13,-9.75 155.23,-7.28M157.70,-9.18 159.60,-7.28" fill="none" stroke="#262626" stroke-width="0.85"/><path d="M160.96,-13.55 163.90,-13.55M162.38,-15.92 162.38,-7.66 161.43,-8.23M160.96,-9.75 163.90,-11.27M164.85,-15.35 169.03,-15.35 169.03,-13.36 168.08,-12.60M164.85,-15.35 164.85,-7.28M164.85,-11.55 169.03,-11.55 167.51,-8.61 169.60,-7.28M166.18,-10.70 165.14,-7.85" fill="none" stroke="#262626" stroke-width="0.85"/>
<g clip-path="url(#cl)">
<path d="M-0.7,-0.7C26.6,-18.4 136.0,-7.0 163.3,-0.7C190.6,5.6 164.6,30.5 163.3,37.3C162.0,44.1 158.3,39.1 155.3,40.3C152.3,41.5 148.3,42.5 145.3,44.3C142.3,46.1 140.0,49.1 137.3,51.3C134.6,53.5 132.0,55.3 129.3,57.3C126.6,59.3 124.3,61.8 121.3,63.3C118.3,64.8 114.6,65.3 111.3,66.3C108.0,67.3 104.6,68.0 101.3,69.3C98.0,70.6 94.0,73.5 91.3,74.3C88.6,75.1 87.0,74.8 85.3,74.3C83.6,73.8 82.6,71.5 81.3,71.3C80.0,71.1 78.3,71.6 77.3,73.3C76.3,75.0 76.3,79.0 75.3,81.3C74.3,83.6 73.0,85.3 71.3,87.3C69.6,89.3 67.6,91.6 65.3,93.3C63.0,95.0 60.3,96.6 57.3,97.3C54.3,98.0 50.6,97.6 47.3,97.3C44.0,97.0 39.6,96.3 37.3,95.3C35.0,94.3 33.8,93.0 33.3,91.3C32.8,89.6 33.3,86.6 34.3,85.3C35.3,84.0 37.3,83.3 39.3,83.3C41.3,83.3 45.0,85.6 46.3,85.3C47.6,85.0 48.8,82.1 47.3,81.3C45.8,80.5 40.6,80.3 37.3,80.3C34.0,80.3 30.6,80.8 27.3,81.3C24.0,81.8 20.0,82.3 17.3,83.3C14.6,84.3 13.3,85.3 11.3,87.3C9.3,89.3 7.3,92.3 5.3,95.3C3.3,98.3 0.3,121.3 -0.7,105.3C-1.7,89.3 -28.0,17.0 -0.7,-0.7Z" fill="#5a8f3e"/>
<path d="M-0.7,21.3C0.6,9.5 4.8,21.3 7.3,22.3C9.8,23.3 13.0,25.6 14.3,27.3C15.6,29.0 14.5,32.0 15.3,32.3C16.1,32.6 17.6,29.6 19.3,29.3C21.0,29.0 23.6,29.8 25.3,30.3C27.0,30.8 28.6,33.5 29.3,32.3C30.0,31.1 29.6,26.1 29.3,23.3C29.0,20.5 27.0,18.3 27.3,15.3C27.6,12.3 29.6,8.0 31.3,5.3C33.0,2.6 16.6,0.3 37.3,-0.7C58.0,-1.7 136.6,-2.4 155.3,-0.7C174.0,1.0 150.8,6.3 149.3,9.3C147.8,12.3 146.0,14.3 146.3,17.3C146.6,20.3 150.1,24.6 151.3,27.3C152.5,30.0 153.8,31.6 153.3,33.3C152.8,35.0 149.6,35.6 148.3,37.3C147.0,39.0 146.8,41.6 145.3,43.3C143.8,45.0 141.6,46.0 139.3,47.3C137.0,48.6 133.3,50.0 131.3,51.3C129.3,52.6 129.6,53.6 127.3,55.3C125.0,57.0 120.6,59.8 117.3,61.3C114.0,62.8 110.6,63.3 107.3,64.3C104.0,65.3 100.3,66.6 97.3,67.3C94.3,68.0 92.0,68.5 89.3,68.3C86.6,68.1 83.3,66.3 81.3,66.3C79.3,66.3 78.5,66.5 77.3,68.3C76.1,70.1 75.6,74.8 74.3,77.3C73.0,79.8 71.1,81.3 69.3,83.3C67.5,85.3 65.3,88.0 63.3,89.3C61.3,90.6 59.3,91.0 57.3,91.3C55.3,91.6 52.8,92.3 51.3,91.3C49.8,90.3 48.8,87.0 48.3,85.3C47.8,83.6 49.8,82.3 48.3,81.3C46.8,80.3 42.8,79.8 39.3,79.3C35.8,78.8 31.0,78.6 27.3,78.3C23.6,78.0 20.3,77.1 17.3,77.3C14.3,77.5 11.3,78.3 9.3,79.3C7.3,80.3 6.1,81.3 5.3,83.3C4.5,85.3 5.3,89.6 4.3,91.3C3.3,93.0 0.1,105.0 -0.7,93.3C-1.5,81.6 -2.0,33.1 -0.7,21.3Z" fill="#648cc4"/>
<path d="M-0.7,37.3C0.3,30.6 3.0,35.3 5.3,35.3C7.6,35.3 11.3,37.5 13.3,37.3C15.3,37.1 15.0,35.3 17.3,34.3C19.6,33.3 24.8,32.8 27.3,31.3C29.8,29.8 31.3,27.6 32.3,25.3C33.3,23.0 32.5,20.3 33.3,17.3C34.1,14.3 35.6,9.8 37.3,7.3C39.0,4.8 40.6,3.6 43.3,2.3C46.0,1.0 36.3,-0.2 53.3,-0.7C70.3,-1.2 130.6,-1.7 145.3,-0.7C160.0,0.3 142.6,3.0 141.3,5.3C140.0,7.6 138.3,10.3 137.3,13.3C136.3,16.3 135.3,20.3 135.3,23.3C135.3,26.3 137.6,28.6 137.3,31.3C137.0,34.0 135.0,37.3 133.3,39.3C131.6,41.3 129.6,42.5 127.3,43.3C125.0,44.1 122.3,43.8 119.3,44.3C116.3,44.8 112.3,45.5 109.3,46.3C106.3,47.1 103.1,47.8 101.3,49.3C99.5,50.8 100.0,53.3 98.3,55.3C96.6,57.3 93.8,60.0 91.3,61.3C88.8,62.6 85.6,62.6 83.3,63.3C81.0,64.0 79.0,64.0 77.3,65.3C75.6,66.6 74.3,69.0 73.3,71.3C72.3,73.6 72.3,77.6 71.3,79.3C70.3,81.0 69.0,82.0 67.3,81.3C65.6,80.6 62.3,78.0 61.3,75.3C60.3,72.6 60.3,68.0 61.3,65.3C62.3,62.6 66.6,61.3 67.3,59.3C68.0,57.3 67.0,55.6 65.3,53.3C63.6,51.0 59.6,46.5 57.3,45.3C55.0,44.1 52.8,45.0 51.3,46.3C49.8,47.6 48.3,51.1 48.3,53.3C48.3,55.5 50.1,57.6 51.3,59.3C52.5,61.0 54.6,61.3 55.3,63.3C56.0,65.3 56.0,69.6 55.3,71.3C54.6,73.0 52.6,72.6 51.3,73.3C50.0,74.0 49.6,75.0 47.3,75.3C45.0,75.6 40.6,75.5 37.3,75.3C34.0,75.1 30.6,74.8 27.3,74.3C24.0,73.8 20.6,72.3 17.3,72.3C14.0,72.3 10.3,73.8 7.3,74.3C4.3,74.8 0.6,81.5 -0.7,75.3C-2.0,69.1 -1.7,44.0 -0.7,37.3Z" fill="#43325e"/>
<path d="M8.3,49.3C9.5,47.3 12.5,47.1 14.3,47.3C16.1,47.5 17.8,48.6 19.3,50.3C20.8,52.0 21.8,55.5 23.3,57.3C24.8,59.1 27.6,59.6 28.3,61.3C29.0,63.0 28.8,66.0 27.3,67.3C25.8,68.6 22.0,69.5 19.3,69.3C16.6,69.1 13.3,68.0 11.3,66.3C9.3,64.6 7.8,62.1 7.3,59.3C6.8,56.5 7.1,51.3 8.3,49.3Z" fill="#648cc4"/>
<path d="M70.3,44.3C70.6,43.4 72.6,43.0 73.3,43.7C74.0,44.4 74.6,47.4 74.3,48.3C74.0,49.2 72.0,50.0 71.3,49.3C70.6,48.6 70.0,45.2 70.3,44.3Z" fill="#648cc4"/>
<path d="M93.3,-0.3C95.0,-0.7 103.6,-0.7 105.3,-0.3C107.0,0.1 105.0,1.9 103.3,2.3C101.6,2.7 97.0,2.7 95.3,2.3C93.6,1.9 91.6,0.1 93.3,-0.3Z" fill="#648cc4"/>
<path d="M14.9,55.3C15.2,54.1 17.4,53.5 18.3,54.3C19.2,55.1 20.6,59.1 20.3,60.3C20.0,61.5 17.2,62.1 16.3,61.3C15.4,60.5 14.6,56.5 14.9,55.3Z" fill="#5a8f3e"/>
<path d="M53.7,83.3C54.4,82.3 56.5,81.3 57.3,82.3C58.1,83.3 58.6,87.8 58.3,89.3C58.0,90.8 56.1,91.5 55.3,91.3C54.5,91.1 53.6,89.6 53.3,88.3C53.0,87.0 53.0,84.3 53.7,83.3Z" fill="#43325e"/>
<path d="M99.3,17.3C100.3,15.3 103.0,12.6 105.3,11.3C107.6,10.0 110.3,9.3 113.3,9.3C116.3,9.3 122.0,10.0 123.3,11.3C124.6,12.6 123.0,15.6 121.3,17.3C119.6,19.0 115.3,19.8 113.3,21.3C111.3,22.8 111.0,25.3 109.3,26.3C107.6,27.3 105.0,27.8 103.3,27.3C101.6,26.8 100.0,25.0 99.3,23.3C98.6,21.6 98.3,19.3 99.3,17.3Z" fill="#a85b96"/>
<path d="M17.3,8.3C17.5,7.1 19.5,6.0 20.3,6.3C21.1,6.6 22.5,9.1 22.3,10.3C22.1,11.5 20.1,13.6 19.3,13.3C18.5,13.0 17.1,9.5 17.3,8.3Z" fill="#ffffff"/>
<path d="M24.3,-0.7C25.5,-1.4 31.3,-1.4 32.3,-0.7C33.3,0.0 31.5,3.0 30.3,3.7C29.1,4.4 26.3,4.0 25.3,3.3C24.3,2.6 23.1,-0.0 24.3,-0.7Z" fill="#ffffff"/>
<path d="M155.3,22.3C155.5,21.7 157.5,20.7 158.3,20.9C159.1,21.1 160.5,22.7 160.3,23.3C160.1,23.9 158.1,24.9 157.3,24.7C156.5,24.5 155.1,22.9 155.3,22.3Z" fill="#ffffff"/>
</g>
<use href="#ol"/>
<rect x="0" y="0" width="163.2" height="220.3" fill="none" stroke="#000" stroke-width="1.5"/>
<line x1="-4" y1="3.80" x2="0" y2="3.80" stroke="#000" stroke-width="1.1"/>
<text x="-7.0" y="7.00" font-size="9" text-anchor="end" fill="#151515">30°N</text>
<line x1="-4" y1="43.07" x2="0" y2="43.07" stroke="#000" stroke-width="1.1"/>
<text x="-7.0" y="46.27" font-size="9" text-anchor="end" fill="#151515">29°N</text>
<line x1="-4" y1="82.34" x2="0" y2="82.34" stroke="#000" stroke-width="1.1"/>
<text x="-7.0" y="85.54" font-size="9" text-anchor="end" fill="#151515">28°N</text>
<line x1="-4" y1="121.61" x2="0" y2="121.61" stroke="#000" stroke-width="1.1"/>
<text x="-7.0" y="124.81" font-size="9" text-anchor="end" fill="#151515">27°N</text>
<line x1="-4" y1="160.88" x2="0" y2="160.88" stroke="#000" stroke-width="1.1"/>
<text x="-7.0" y="164.08" font-size="9" text-anchor="end" fill="#151515">26°N</text>
<line x1="-4" y1="200.15" x2="0" y2="200.15" stroke="#000" stroke-width="1.1"/>
<text x="-7.0" y="203.35" font-size="9" text-anchor="end" fill="#151515">25°N</text>
<line x1="15.50" y1="220.3" x2="15.50" y2="224.3" stroke="#000" stroke-width="1.1"/>
<text x="15.50" y="235.90" font-size="9.2" text-anchor="middle" fill="#151515">114°E</text>
<line x1="48.30" y1="220.3" x2="48.30" y2="224.3" stroke="#000" stroke-width="1.1"/>
<text x="48.30" y="235.90" font-size="9.2" text-anchor="middle" fill="#151515">115°E</text>
<line x1="81.10" y1="220.3" x2="81.10" y2="224.3" stroke="#000" stroke-width="1.1"/>
<text x="81.10" y="235.90" font-size="9.2" text-anchor="middle" fill="#151515">116°E</text>
<line x1="113.90" y1="220.3" x2="113.90" y2="224.3" stroke="#000" stroke-width="1.1"/>
<text x="113.90" y="235.90" font-size="9.2" text-anchor="middle" fill="#151515">117°E</text>
<line x1="146.70" y1="220.3" x2="146.70" y2="224.3" stroke="#000" stroke-width="1.1"/>
<text x="146.70" y="235.90" font-size="9.2" text-anchor="middle" fill="#151515">118°E</text>
</g>
<g transform="translate(449.7,282.6)">
<text x="-7.08 -4.08 0.42" y="-7.6" font-size="9.0" fill="#151515">(h)</text><path d="M10.61,-16.21 10.61,-15.16M6.81,-13.74 6.81,-14.97 14.41,-14.97 14.41,-13.74M9.85,-13.74 7.76,-11.17M9.66,-13.07 12.70,-13.07 8.71,-9.94M10.23,-12.03 14.22,-10.13M8.71,-9.75H12.51V-7.28H8.71Z" fill="none" stroke="#262626" stroke-width="0.85"/><path d="M16.34,-14.50 19.66,-14.50 16.81,-7.47M17.29,-12.60 20.23,-7.47M20.61,-15.45H24.41V-10.70H20.61ZM22.51,-14.02 22.51,-11.65M21.66,-10.70 20.61,-7.28M23.46,-10.70 23.46,-7.85 25.17,-7.85 25.17,-8.80" fill="none" stroke="#262626" stroke-width="0.85"/><path d="M26.81,-15.64 27.76,-14.50M26.34,-12.60 27.76,-12.60 27.76,-8.23 28.71,-9.18M29.66,-14.50 34.98,-14.50M32.51,-14.50 32.51,-7.28 31.56,-7.85" fill="none" stroke="#262626" stroke-width="0.85"/><path d="M36.81,-15.45 44.41,-15.45M40.61,-15.45 40.61,-7.66M40.61,-11.46 44.03,-11.46M38.24,-12.12 38.24,-7.66M36.34,-7.66 44.89,-7.66" fill="none" stroke="#262626" stroke-width="0.85"/><text x="45.66" y="-7.6" font-size="9.0" fill="#151515">5</text><path d="M52.26,-15.45H57.96V-7.56H52.26ZM52.26,-11.65 57.96,-11.65" fill="none" stroke="#262626" stroke-width="0.85"/><text x="60.16 64.66 69.16 71.66 76.16" y="-7.6" font-size="9.0" fill="#151515">20:00</text><path d="M81.81,-14.50 85.61,-14.50M83.71,-15.92 83.71,-12.60M81.34,-12.60 86.09,-12.60M83.52,-11.65 83.52,-8.80M83.52,-10.22 85.23,-10.22M82.00,-10.89 82.00,-8.61 89.98,-7.37M86.18,-15.26 89.41,-15.26 89.41,-12.03 86.66,-12.03 86.66,-8.80 89.98,-8.80 89.98,-9.94" fill="none" stroke="#262626" stroke-width="0.85"/><path d="M91.34,-13.55 94.28,-13.55M92.76,-15.92 92.76,-7.66 91.81,-8.23M91.34,-9.75 94.28,-11.27M95.23,-15.35 99.41,-15.35 99.41,-13.36 98.46,-12.60M95.23,-15.35 95.23,-7.28M95.23,-11.55 99.41,-11.55 97.89,-8.61 99.98,-7.28M96.56,-10.70 95.52,-7.85" fill="none" stroke="#262626" stroke-width="0.85"/><text x="100.66 105.16 109.66 114.53 119.03 125.78" y="-7.6" font-size="9.0" fill="#151515">12~24h</text><path d="M131.05,-14.50H133.90V-8.80H131.05ZM131.05,-11.65 133.90,-11.65M134.76,-13.55 139.60,-13.55M138.08,-15.92 138.08,-7.28 136.94,-7.85M135.71,-11.65 136.75,-10.13" fill="none" stroke="#262626" stroke-width="0.85"/><path d="M142.86,-16.02 143.24,-15.07M140.96,-14.50 144.85,-14.50M142.00,-13.55 141.05,-12.03M143.71,-13.55 144.85,-12.03M141.43,-11.65 144.28,-7.28M144.28,-11.65 140.96,-7.28M146.37,-15.92 145.23,-12.60M145.80,-13.55 149.60,-13.55M148.65,-13.55 145.23,-7.28M146.18,-11.46 149.60,-7.28" fill="none" stroke="#262626" stroke-width="0.85"/><path d="M150.96,-14.97 154.28,-14.97 152.38,-13.07M150.96,-12.12 154.85,-12.12 153.90,-11.08M152.86,-13.07 152.86,-7.28 151.91,-7.85M155.23,-15.45 159.60,-15.45M155.71,-14.02H159.13V-9.75H155.71ZM157.42,-14.02 157.42,-10.22M157.13,-9.75 155.23,-7.28M157.70,-9.18 159.60,-7.28" fill="none" stroke="#262626" stroke-width="0.85"/><path d="M160.96,-13.55 163.90,-13.55M162.38,-15.92 162.38,-7.66 161.43,-8.23M160.96,-9.75 163.90,-11.27M164.85,-15.35 169.03,-15.35 169.03,-13.36 168.08,-12.60M164.85,-15.35 164.85,-7.28M164.85,-11.55 169.03,-11.55 167.51,-8.61 169.60,-7.28M166.18,-10.70 165.14,-7.85" fill="none" stroke="#262626" stroke-width="0.85"/>
<g clip-path="url(#cl)">
<path d="M-0.7,61.4C0.4,49.4 3.3,62.4 5.3,61.4C7.3,60.4 9.8,56.9 11.3,55.4C12.8,53.9 13.3,52.1 14.3,52.4C15.3,52.7 15.5,56.6 17.3,57.4C19.1,58.2 23.0,58.4 25.3,57.4C27.6,56.4 29.6,52.2 31.3,51.4C33.0,50.6 34.0,50.7 35.3,52.4C36.6,54.1 39.0,59.2 39.3,61.4C39.6,63.6 39.0,64.6 37.3,65.4C35.6,66.2 32.0,66.2 29.3,66.4C26.6,66.6 23.1,65.6 21.3,66.4C19.5,67.2 19.0,69.6 18.3,71.4C17.6,73.2 16.8,76.1 17.3,77.4C17.8,78.7 19.8,79.4 21.3,79.4C22.8,79.4 24.8,77.1 26.3,77.4C27.8,77.7 30.1,79.9 30.3,81.4C30.5,82.9 28.5,85.1 27.3,86.4C26.1,87.7 23.0,88.2 23.3,89.4C23.6,90.6 27.0,93.1 29.3,93.4C31.6,93.7 35.0,93.4 37.3,91.4C39.6,89.4 41.3,83.9 43.3,81.4C45.3,78.9 47.0,77.6 49.3,76.4C51.6,75.2 54.3,74.9 57.3,74.4C60.3,73.9 64.8,74.2 67.3,73.4C69.8,72.6 71.3,70.6 72.3,69.4C73.3,68.2 74.1,67.1 73.3,66.4C72.5,65.7 69.3,65.9 67.3,65.4C65.3,64.9 63.3,64.4 61.3,63.4C59.3,62.4 57.0,61.4 55.3,59.4C53.6,57.4 51.6,54.1 51.3,51.4C51.0,48.7 52.3,45.9 53.3,43.4C54.3,40.9 55.3,37.9 57.3,36.4C59.3,34.9 62.6,34.2 65.3,34.4C68.0,34.6 71.0,36.2 73.3,37.4C75.6,38.6 77.0,41.4 79.3,41.4C81.6,41.4 85.3,39.4 87.3,37.4C89.3,35.4 90.3,32.1 91.3,29.4C92.3,26.7 92.3,24.1 93.3,21.4C94.3,18.7 96.0,15.7 97.3,13.4C98.6,11.1 99.3,8.7 101.3,7.4C103.3,6.1 106.6,6.1 109.3,5.4C112.0,4.7 114.6,4.4 117.3,3.4C120.0,2.4 117.6,0.1 125.3,-0.6C133.0,-1.3 156.7,-0.8 163.3,-0.6C169.9,-0.5 164.6,-13.2 164.9,0.3C165.2,13.8 166.3,66.8 164.9,80.4C163.5,94.0 160.1,80.8 156.3,81.8C152.5,82.8 145.8,84.2 142.0,86.1C138.2,88.0 135.8,91.4 133.4,93.3C131.0,95.2 129.6,95.4 127.7,97.6C125.8,99.8 123.8,102.4 121.9,106.2C120.0,110.0 118.1,117.2 116.2,120.5C114.3,123.8 112.4,124.3 110.5,126.2C108.6,128.1 106.5,129.5 104.8,131.9C103.1,134.3 101.9,138.1 100.5,140.5C99.1,142.9 97.6,144.4 96.2,146.3C94.8,148.2 93.8,150.7 91.9,152.0C90.0,153.3 87.3,154.5 84.7,154.3C82.1,154.1 78.9,151.7 76.1,150.6C73.2,149.5 70.4,148.4 67.6,147.7C64.8,147.0 61.9,147.5 59.0,146.3C56.1,145.1 52.3,142.9 50.4,140.5C48.5,138.1 47.7,134.8 47.5,131.9C47.3,129.1 50.0,125.8 49.0,123.4C48.0,121.0 45.4,119.0 41.8,117.6C38.2,116.2 31.8,115.0 27.5,114.8C23.2,114.6 19.2,115.5 16.1,116.2C13.0,116.9 10.3,117.7 8.9,119.1C7.5,120.5 8.0,122.4 7.5,124.8C7.0,127.2 7.4,132.0 6.0,133.4C4.6,134.8 0.0,145.4 -1.1,133.4C-2.2,121.4 -1.8,73.4 -0.7,61.4Z" fill="#5a8f3e"/>
<path d="M20.3,139.7C20.8,138.5 24.0,136.4 26.1,136.2C28.2,135.9 32.5,137.1 33.2,138.2C33.9,139.3 32.1,141.9 30.4,142.8C28.7,143.7 24.9,143.9 23.2,143.4C21.5,142.9 19.8,140.9 20.3,139.7Z" fill="#5a8f3e"/>
<path d="M147.7,186.3C148.4,184.2 151.0,180.6 153.4,179.2C155.8,177.8 160.1,177.8 162.0,177.7C163.9,177.5 164.4,175.4 164.9,178.3C165.4,181.2 166.3,192.1 164.9,194.9C163.5,197.7 158.9,195.4 156.3,194.9C153.7,194.4 150.5,193.5 149.1,192.1C147.7,190.7 147.0,188.5 147.7,186.3Z" fill="#5a8f3e"/>
<path d="M101.3,209.2C101.5,205.8 102.5,200.6 103.3,199.2C104.1,197.8 105.5,198.4 106.2,200.6C106.9,202.8 107.6,209.0 107.6,212.1C107.6,215.2 107.2,218.1 106.2,219.3C105.2,220.5 102.7,221.0 101.9,219.3C101.1,217.6 101.1,212.5 101.3,209.2Z" fill="#5a8f3e"/>
<path d="M136.2,210.7C136.0,209.2 137.9,206.4 139.1,206.4C140.3,206.4 143.2,209.2 143.4,210.7C143.6,212.2 141.7,215.5 140.5,215.5C139.3,215.5 136.4,212.2 136.2,210.7Z" fill="#5a8f3e"/>
<path d="M-0.7,65.4C0.2,59.2 3.6,65.1 5.3,66.4C7.0,67.7 7.6,70.9 9.3,73.4C11.0,75.9 14.0,78.7 15.3,81.4C16.6,84.1 16.3,87.1 17.3,89.4C18.3,91.7 19.1,94.2 21.3,95.4C23.5,96.6 27.3,96.7 30.3,96.4C33.3,96.1 36.8,95.2 39.3,93.4C41.8,91.6 43.3,87.4 45.3,85.4C47.3,83.4 49.3,82.4 51.3,81.4C53.3,80.4 54.3,79.9 57.3,79.4C60.3,78.9 66.5,79.1 69.3,78.4C72.1,77.7 73.1,76.9 74.3,75.4C75.5,73.9 76.5,71.4 76.3,69.4C76.1,67.4 75.1,64.7 73.3,63.4C71.5,62.1 68.0,62.4 65.3,61.4C62.6,60.4 59.3,59.1 57.3,57.4C55.3,55.7 53.6,53.7 53.3,51.4C53.0,49.1 54.0,45.6 55.3,43.4C56.6,41.2 59.0,39.2 61.3,38.4C63.6,37.6 66.6,37.6 69.3,38.4C72.0,39.2 74.6,42.7 77.3,43.4C80.0,44.1 83.0,43.4 85.3,42.4C87.6,41.4 89.6,39.9 91.3,37.4C93.0,34.9 94.3,30.4 95.3,27.4C96.3,24.4 96.3,22.1 97.3,19.4C98.3,16.7 99.8,13.2 101.3,11.4C102.8,9.6 104.3,9.1 106.3,8.4C108.3,7.7 111.1,7.9 113.3,7.4C115.5,6.9 117.3,6.1 119.3,5.4C121.3,4.7 121.6,3.7 125.3,3.4C129.0,3.1 136.0,3.7 141.3,3.4C146.6,3.1 153.6,1.9 157.3,1.4C161.0,0.9 162.3,-6.6 163.3,0.4C164.3,7.4 164.6,34.9 163.3,43.4C162.0,51.9 157.5,49.1 155.3,51.4C153.1,53.7 151.8,55.4 150.3,57.4C148.8,59.4 147.8,60.7 146.3,63.4C144.8,66.1 142.8,70.7 141.3,73.4C139.8,76.1 139.0,77.7 137.3,79.4C135.6,81.1 131.6,81.4 131.3,83.4C131.0,85.4 134.5,88.7 135.3,91.4C136.1,94.1 137.0,97.1 136.3,99.4C135.6,101.7 137.8,105.0 131.3,105.4C124.8,105.8 104.8,101.8 97.3,102.0C89.8,102.2 89.8,105.6 86.5,106.6C83.2,107.6 80.1,107.4 77.3,108.2C74.5,109.0 70.6,109.4 69.6,111.2C68.6,113.0 71.9,117.1 71.1,118.9C70.3,120.7 67.5,122.0 65.0,122.0C62.5,122.0 59.4,119.7 55.8,118.9C52.2,118.1 47.6,117.9 43.5,117.4C39.4,116.9 34.4,116.9 31.1,115.9C27.8,114.9 25.8,111.2 23.5,111.2C21.2,111.2 19.9,115.4 17.3,115.9C14.7,116.4 11.0,116.3 8.1,114.3C5.2,112.2 1.1,111.8 -0.4,103.6C-1.9,95.4 -1.6,71.6 -0.7,65.4Z" fill="#648cc4"/>
<path d="M132.9,2.9C133.6,0.8 136.4,1.4 138.5,1.6C140.6,1.8 144.7,2.2 145.4,4.3C146.1,6.4 143.8,11.7 142.6,14.0C141.4,16.3 139.9,18.2 138.5,18.2C137.1,18.2 135.2,16.6 134.3,14.0C133.4,11.4 132.2,5.0 132.9,2.9Z" fill="#5a8f3e"/>
<path d="M149.5,23.0C149.1,21.4 153.5,16.9 155.1,14.0C156.7,11.1 157.6,7.7 159.2,5.7C160.8,3.7 163.9,-1.0 164.8,2.2C165.7,5.4 166.0,21.5 164.8,25.1C163.6,28.7 160.4,24.1 157.8,23.7C155.2,23.3 149.9,24.6 149.5,23.0Z" fill="#5a8f3e"/>
<path d="M-0.7,69.4C0.4,68.1 4.3,72.1 6.3,74.4C8.3,76.7 10.0,80.4 11.3,83.4C12.6,86.4 12.8,90.1 14.3,92.4C15.8,94.7 17.6,96.4 20.3,97.4C23.0,98.4 27.0,98.7 30.3,98.4C33.6,98.1 37.5,97.1 40.3,95.4C43.1,93.7 44.8,90.4 47.3,88.4C49.8,86.4 52.3,84.6 55.3,83.4C58.3,82.2 62.1,81.6 65.3,81.4C68.5,81.2 72.0,82.7 74.3,82.4C76.6,82.1 78.3,80.9 79.3,79.4C80.3,77.9 80.8,75.6 80.3,73.4C79.8,71.2 78.5,68.4 76.3,66.4C74.1,64.4 70.1,63.1 67.3,61.4C64.5,59.7 61.0,58.7 59.3,56.4C57.6,54.1 57.3,50.1 57.3,47.4C57.3,44.7 57.8,41.7 59.3,40.4C60.8,39.1 64.0,38.9 66.3,39.4C68.6,39.9 71.1,41.9 73.3,43.4C75.5,44.9 76.8,47.4 79.3,48.4C81.8,49.4 86.3,50.2 88.3,49.4C90.3,48.6 91.0,45.4 91.3,43.4C91.6,41.4 90.0,40.1 90.3,37.4C90.6,34.7 92.0,30.9 93.3,27.4C94.6,23.9 96.5,19.2 98.3,16.4C100.1,13.6 102.1,11.6 104.3,10.4C106.5,9.2 109.5,8.9 111.3,9.4C113.1,9.9 114.3,11.4 115.3,13.4C116.3,15.4 117.0,18.4 117.3,21.4C117.6,24.4 116.6,30.1 117.3,31.4C118.0,32.7 118.6,30.1 121.3,29.4C124.0,28.7 130.0,27.4 133.3,27.4C136.6,27.4 138.6,28.7 141.3,29.4C144.0,30.1 146.6,32.1 149.3,31.4C152.0,30.7 155.0,27.4 157.3,25.4C159.6,23.4 162.3,16.4 163.3,19.4C164.3,22.4 164.3,38.4 163.3,43.4C162.3,48.4 159.3,47.1 157.3,49.4C155.3,51.7 153.3,54.7 151.3,57.4C149.3,60.1 147.0,62.7 145.3,65.4C143.6,68.1 143.6,71.1 141.3,73.4C139.0,75.7 134.0,77.4 131.3,79.4C128.6,81.4 126.0,83.1 125.3,85.4C124.6,87.7 126.0,91.1 127.3,93.4C128.6,95.7 133.0,97.7 133.3,99.4C133.6,101.1 131.3,103.1 129.3,103.4C127.3,103.7 123.3,102.7 121.3,101.4C119.3,100.1 119.3,96.7 117.3,95.4C115.3,94.1 112.6,93.6 109.3,93.4C106.0,93.2 100.6,93.6 97.3,94.3C94.0,95.0 91.9,96.6 89.6,97.4C87.3,98.2 85.5,98.4 83.5,98.9C81.5,99.4 79.9,100.0 77.3,100.5C74.7,101.0 70.7,101.5 68.1,102.0C65.5,102.5 63.4,102.6 61.9,103.6C60.4,104.6 61.1,106.7 58.8,108.2C56.5,109.7 51.9,112.0 48.1,112.8C44.3,113.6 39.1,113.6 35.8,112.8C32.5,112.0 30.7,109.5 28.1,108.2C25.5,106.9 22.4,104.8 20.4,105.1C18.3,105.3 17.1,109.2 15.8,109.7C14.5,110.2 14.2,111.0 12.7,108.2C11.1,105.4 8.7,97.2 6.5,92.8C4.3,88.4 0.8,85.9 -0.4,82.0C-1.6,78.1 -1.8,70.7 -0.7,69.4Z" fill="#43325e"/>
<path d="M81.3,51.0C81.3,51.5 88.0,53.5 91.3,53.8C94.6,54.1 98.3,53.8 101.3,53.0C104.3,52.2 106.6,50.3 109.3,49.0C112.0,47.7 114.6,47.3 117.3,45.4C120.0,43.5 123.3,39.7 125.3,37.4C127.3,35.1 129.0,32.6 129.3,31.4C129.6,30.2 128.3,29.7 127.3,30.4C126.3,31.1 125.1,33.4 123.3,35.4C121.5,37.4 118.8,40.6 116.3,42.4C113.8,44.2 111.0,45.2 108.3,46.4C105.6,47.6 103.1,49.0 100.3,49.8C97.5,50.6 94.5,50.8 91.3,51.0C88.1,51.2 81.3,50.5 81.3,51.0Z" fill="#648cc4"/>
<path d="M114.3,63.4C115.3,61.4 118.1,60.7 119.3,61.4C120.5,62.1 121.3,64.7 121.3,67.4C121.3,70.1 120.6,74.7 119.3,77.4C118.0,80.1 114.6,81.1 113.3,83.4C112.0,85.7 112.1,90.4 111.3,91.4C110.5,92.4 108.5,91.1 108.3,89.4C108.1,87.7 109.5,84.1 110.3,81.4C111.1,78.7 112.6,76.4 113.3,73.4C114.0,70.4 113.3,65.4 114.3,63.4Z" fill="#648cc4"/>
<path d="M67.3,89.4C68.0,87.9 71.0,86.7 73.3,86.4C75.6,86.1 79.6,86.4 81.3,87.4C83.0,88.4 84.0,91.1 83.3,92.4C82.6,93.7 79.6,94.9 77.3,95.4C75.0,95.9 71.0,96.4 69.3,95.4C67.6,94.4 66.6,90.9 67.3,89.4Z" fill="#648cc4"/>
<path d="M96.3,31.4C96.6,29.2 97.8,25.2 99.3,23.4C100.8,21.6 103.6,20.4 105.3,20.4C107.0,20.4 108.5,21.6 109.3,23.4C110.1,25.2 110.6,29.1 110.3,31.4C110.0,33.7 108.8,36.2 107.3,37.4C105.8,38.6 103.0,38.6 101.3,38.4C99.6,38.2 98.1,37.6 97.3,36.4C96.5,35.2 96.0,33.6 96.3,31.4Z" fill="#a85b96"/>
<path d="M83.3,63.4C84.0,61.4 86.6,60.2 89.3,59.4C92.0,58.6 96.3,58.4 99.3,58.4C102.3,58.4 105.6,58.2 107.3,59.4C109.0,60.6 109.1,63.1 109.3,65.4C109.5,67.7 109.3,71.4 108.3,73.4C107.3,75.4 104.8,75.7 103.3,77.4C101.8,79.1 100.6,81.7 99.3,83.4C98.0,85.1 96.6,87.1 95.3,87.4C94.0,87.7 92.3,87.1 91.3,85.4C90.3,83.7 90.3,79.7 89.3,77.4C88.3,75.1 86.3,73.7 85.3,71.4C84.3,69.1 82.6,65.4 83.3,63.4Z" fill="#a85b96"/>
<path d="M69.3,51.4C69.9,50.4 72.0,49.4 73.3,49.4C74.6,49.4 76.6,50.4 77.3,51.4C78.0,52.4 78.0,54.4 77.3,55.4C76.6,56.4 74.6,57.4 73.3,57.4C72.0,57.4 70.4,56.4 69.7,55.4C69.0,54.4 68.7,52.4 69.3,51.4Z" fill="#a85b96"/>
<path d="M130.3,42.4C131.3,41.4 134.5,40.2 137.3,39.4C140.1,38.6 145.0,37.1 147.3,37.4C149.6,37.7 151.3,39.6 151.3,41.4C151.3,43.2 149.3,47.4 147.3,48.4C145.3,49.4 142.0,47.9 139.3,47.4C136.6,46.9 132.8,46.2 131.3,45.4C129.8,44.6 129.3,43.4 130.3,42.4Z" fill="#a85b96"/>
<path d="M12.9,64.4C13.7,63.2 15.7,63.1 17.3,63.0C18.9,62.9 21.3,62.7 22.3,63.8C23.3,64.9 23.6,67.4 23.3,69.4C23.0,71.4 21.6,74.6 20.3,75.8C19.0,77.0 16.6,77.3 15.3,76.4C14.0,75.5 12.9,72.4 12.5,70.4C12.1,68.4 12.1,65.6 12.9,64.4Z" fill="#ffffff"/>
<path d="M63.3,134.2C63.3,133.0 65.8,130.5 67.0,130.5C68.2,130.5 70.4,133.0 70.4,134.2C70.4,135.4 68.2,137.7 67.0,137.7C65.8,137.7 63.3,135.4 63.3,134.2Z" fill="#ffffff"/>
<path d="M91.0,114.2C91.0,113.0 93.4,110.5 94.7,110.5C96.0,110.5 99.0,113.0 99.0,114.2C99.0,115.4 96.0,117.6 94.7,117.6C93.4,117.6 91.0,115.4 91.0,114.2Z" fill="#ffffff"/>
<path d="M153.4,67.5C154.3,65.8 157.4,64.5 159.1,64.7C160.8,65.0 162.7,66.4 163.4,69.0C164.1,71.6 164.4,78.3 163.4,80.4C162.4,82.5 159.4,82.8 157.7,81.8C156.0,80.8 154.1,77.1 153.4,74.7C152.7,72.3 152.5,69.2 153.4,67.5Z" fill="#ffffff"/>
</g>
<use href="#ol"/>
<rect x="0" y="0" width="163.2" height="220.3" fill="none" stroke="#000" stroke-width="1.5"/>
<line x1="-4" y1="3.80" x2="0" y2="3.80" stroke="#000" stroke-width="1.1"/>
<text x="-7.0" y="7.00" font-size="9" text-anchor="end" fill="#151515">30°N</text>
<line x1="-4" y1="43.07" x2="0" y2="43.07" stroke="#000" stroke-width="1.1"/>
<text x="-7.0" y="46.27" font-size="9" text-anchor="end" fill="#151515">29°N</text>
<line x1="-4" y1="82.34" x2="0" y2="82.34" stroke="#000" stroke-width="1.1"/>
<text x="-7.0" y="85.54" font-size="9" text-anchor="end" fill="#151515">28°N</text>
<line x1="-4" y1="121.61" x2="0" y2="121.61" stroke="#000" stroke-width="1.1"/>
<text x="-7.0" y="124.81" font-size="9" text-anchor="end" fill="#151515">27°N</text>
<line x1="-4" y1="160.88" x2="0" y2="160.88" stroke="#000" stroke-width="1.1"/>
<text x="-7.0" y="164.08" font-size="9" text-anchor="end" fill="#151515">26°N</text>
<line x1="-4" y1="200.15" x2="0" y2="200.15" stroke="#000" stroke-width="1.1"/>
<text x="-7.0" y="203.35" font-size="9" text-anchor="end" fill="#151515">25°N</text>
<line x1="15.50" y1="220.3" x2="15.50" y2="224.3" stroke="#000" stroke-width="1.1"/>
<text x="15.50" y="235.90" font-size="9.2" text-anchor="middle" fill="#151515">114°E</text>
<line x1="48.30" y1="220.3" x2="48.30" y2="224.3" stroke="#000" stroke-width="1.1"/>
<text x="48.30" y="235.90" font-size="9.2" text-anchor="middle" fill="#151515">115°E</text>
<line x1="81.10" y1="220.3" x2="81.10" y2="224.3" stroke="#000" stroke-width="1.1"/>
<text x="81.10" y="235.90" font-size="9.2" text-anchor="middle" fill="#151515">116°E</text>
<line x1="113.90" y1="220.3" x2="113.90" y2="224.3" stroke="#000" stroke-width="1.1"/>
<text x="113.90" y="235.90" font-size="9.2" text-anchor="middle" fill="#151515">117°E</text>
<line x1="146.70" y1="220.3" x2="146.70" y2="224.3" stroke="#000" stroke-width="1.1"/>
<text x="146.70" y="235.90" font-size="9.2" text-anchor="middle" fill="#151515">118°E</text>
</g>
<g transform="translate(449.7,547.3)">
<text x="-6.08 -3.08 -0.58" y="-7.6" font-size="9.0" fill="#151515">(i)</text><path d="M9.61,-16.21 9.61,-15.16M5.81,-13.74 5.81,-14.97 13.41,-14.97 13.41,-13.74M8.85,-13.74 6.76,-11.17M8.66,-13.07 11.70,-13.07 7.71,-9.94M9.23,-12.03 13.22,-10.13M7.71,-9.75H11.51V-7.28H7.71Z" fill="none" stroke="#262626" stroke-width="0.85"/><path d="M15.34,-14.50 18.66,-14.50 15.81,-7.47M16.29,-12.60 19.23,-7.47M19.61,-15.45H23.41V-10.70H19.61ZM21.51,-14.02 21.51,-11.65M20.66,-10.70 19.61,-7.28M22.46,-10.70 22.46,-7.85 24.17,-7.85 24.17,-8.80" fill="none" stroke="#262626" stroke-width="0.85"/><path d="M25.81,-15.64 26.76,-14.50M25.34,-12.60 26.76,-12.60 26.76,-8.23 27.71,-9.18M28.66,-14.50 33.98,-14.50M31.51,-14.50 31.51,-7.28 30.56,-7.85" fill="none" stroke="#262626" stroke-width="0.85"/><path d="M35.81,-15.45 43.41,-15.45M39.61,-15.45 39.61,-7.66M39.61,-11.46 43.03,-11.46M37.24,-12.12 37.24,-7.66M35.34,-7.66 43.89,-7.66" fill="none" stroke="#262626" stroke-width="0.85"/><text x="44.66" y="-7.6" font-size="9.0" fill="#151515">6</text><path d="M51.26,-15.45H56.96V-7.56H51.26ZM51.26,-11.65 56.96,-11.65" fill="none" stroke="#262626" stroke-width="0.85"/><text x="59.16 63.66 68.16 70.66 75.16" y="-7.6" font-size="9.0" fill="#151515">08:00</text><path d="M80.81,-14.50 84.61,-14.50M82.71,-15.92 82.71,-12.60M80.34,-12.60 85.09,-12.60M82.52,-11.65 82.52,-8.80M82.52,-10.22 84.23,-10.22M81.00,-10.89 81.00,-8.61 88.98,-7.37M85.18,-15.26 88.41,-15.26 88.41,-12.03 85.66,-12.03 85.66,-8.80 88.98,-8.80 88.98,-9.94" fill="none" stroke="#262626" stroke-width="0.85"/><path d="M90.34,-13.55 93.28,-13.55M91.76,-15.92 91.76,-7.66 90.81,-8.23M90.34,-9.75 93.28,-11.27M94.23,-15.35 98.41,-15.35 98.41,-13.36 97.46,-12.60M94.23,-15.35 94.23,-7.28M94.23,-11.55 98.41,-11.55 96.89,-8.61 98.98,-7.28M95.56,-10.70 94.52,-7.85" fill="none" stroke="#262626" stroke-width="0.85"/><text x="99.66 104.16 108.66 113.53 118.03 124.78" y="-7.6" font-size="9.0" fill="#151515">12~24h</text><path d="M130.05,-14.50H132.90V-8.80H130.05ZM130.05,-11.65 132.90,-11.65M133.76,-13.55 138.60,-13.55M137.08,-15.92 137.08,-7.28 135.94,-7.85M134.71,-11.65 135.75,-10.13" fill="none" stroke="#262626" stroke-width="0.85"/><path d="M141.86,-16.02 142.24,-15.07M139.96,-14.50 143.85,-14.50M141.00,-13.55 140.05,-12.03M142.71,-13.55 143.85,-12.03M140.43,-11.65 143.28,-7.28M143.28,-11.65 139.96,-7.28M145.37,-15.92 144.23,-12.60M144.80,-13.55 148.60,-13.55M147.65,-13.55 144.23,-7.28M145.18,-11.46 148.60,-7.28" fill="none" stroke="#262626" stroke-width="0.85"/><path d="M149.96,-14.97 153.28,-14.97 151.38,-13.07M149.96,-12.12 153.85,-12.12 152.90,-11.08M151.86,-13.07 151.86,-7.28 150.91,-7.85M154.23,-15.45 158.60,-15.45M154.71,-14.02H158.13V-9.75H154.71ZM156.42,-14.02 156.42,-10.22M156.13,-9.75 154.23,-7.28M156.70,-9.18 158.60,-7.28" fill="none" stroke="#262626" stroke-width="0.85"/><path d="M159.96,-13.55 162.90,-13.55M161.38,-15.92 161.38,-7.66 160.43,-8.23M159.96,-9.75 162.90,-11.27M163.85,-15.35 168.03,-15.35 168.03,-13.36 167.08,-12.60M163.85,-15.35 163.85,-7.28M163.85,-11.55 168.03,-11.55 166.51,-8.61 168.60,-7.28M165.18,-10.70 164.14,-7.85" fill="none" stroke="#262626" stroke-width="0.85"/>
<g clip-path="url(#cl)">
<path d="M-1.1,95.0C-0.2,76.9 1.7,102.6 4.6,103.6C7.5,104.6 12.3,102.2 16.1,100.8C19.9,99.4 23.7,96.9 27.5,95.0C31.3,93.1 35.6,91.2 38.9,89.3C42.2,87.4 44.1,86.0 47.5,83.6C50.9,81.2 55.6,78.3 59.0,75.0C62.4,71.7 64.8,67.3 67.6,63.5C70.4,59.7 73.7,55.4 76.1,52.1C78.5,48.8 81.4,46.8 81.9,43.5C82.4,40.2 80.0,35.4 79.0,32.1C78.0,28.8 77.0,26.4 76.1,23.5C75.1,20.6 73.5,17.8 73.3,14.9C73.1,12.0 74.2,8.8 74.7,6.3C75.2,3.8 73.0,1.0 76.1,-0.0C79.2,-1.0 89.5,-1.5 93.3,-0.0C97.1,1.5 97.1,6.7 99.0,9.2C100.9,11.7 102.4,13.0 104.8,14.9C107.2,16.8 110.4,19.2 113.3,20.6C116.2,22.0 118.6,23.0 121.9,23.5C125.2,24.0 129.6,24.0 133.4,23.5C137.2,23.0 141.5,20.6 144.8,20.6C148.1,20.6 151.0,23.5 153.4,23.5C155.8,23.5 157.2,21.6 159.1,20.6C161.0,19.6 163.9,5.3 164.9,17.7C165.9,30.1 165.9,82.1 164.9,95.0C163.9,107.9 161.5,93.1 159.1,95.0C156.7,96.9 151.4,102.7 150.5,106.5C149.6,110.3 152.4,114.1 153.4,117.9C154.4,121.7 156.8,127.0 156.3,129.4C155.8,131.8 153.4,132.7 150.5,132.2C147.6,131.7 142.4,127.9 139.1,126.5C135.8,125.1 132.9,123.2 130.5,123.7C128.1,124.2 126.7,127.5 124.8,129.4C122.9,131.3 121.5,133.2 119.1,135.1C116.7,137.0 113.4,139.4 110.5,140.8C107.6,142.2 104.8,143.7 101.9,143.7C99.0,143.7 96.2,140.8 93.3,140.8C90.4,140.8 87.6,141.8 84.7,143.7C81.8,145.6 79.4,150.4 76.1,152.3C72.8,154.2 68.5,154.4 64.7,155.1C60.9,155.8 56.6,156.6 53.3,156.6C50.0,156.6 46.6,156.8 44.7,155.1C42.8,153.4 43.7,148.5 41.8,146.6C39.9,144.7 36.1,143.7 33.2,143.7C30.3,143.7 26.5,144.2 24.6,146.6C22.7,149.0 22.8,155.2 21.8,158.0C20.9,160.8 20.1,161.8 18.9,163.7C17.7,165.6 15.1,166.2 14.6,169.5C14.1,172.8 16.1,179.0 16.1,183.8C16.1,188.6 15.1,194.8 14.6,198.1C14.1,201.4 14.4,201.4 13.2,203.8C12.0,206.2 9.9,211.0 7.5,212.4C5.1,213.8 0.3,232.0 -1.1,212.4C-2.5,192.8 -2.0,113.1 -1.1,95.0Z" fill="#5a8f3e"/>
<path d="M81.3,180.9C80.8,179.2 83.2,174.2 84.7,172.3C86.2,170.4 89.3,169.0 90.5,169.5C91.7,170.0 92.4,173.1 91.9,175.2C91.4,177.3 89.4,181.4 87.6,182.3C85.8,183.2 81.8,182.6 81.3,180.9Z" fill="#5a8f3e"/>
<path d="M96.7,200.9C97.0,198.9 98.9,194.3 100.5,192.4C102.1,190.5 105.0,189.0 106.2,189.5C107.4,190.0 108.1,193.0 107.6,195.2C107.1,197.3 104.8,200.9 103.3,202.4C101.8,203.9 99.6,204.7 98.5,204.4C97.4,204.2 96.4,202.9 96.7,200.9Z" fill="#5a8f3e"/>
<path d="M130.5,211.0C131.4,209.7 136.0,206.5 139.1,205.8C142.2,205.1 147.3,205.8 149.1,206.7C150.9,207.6 151.2,209.8 150.0,211.0C148.8,212.2 144.8,213.3 142.0,213.8C139.2,214.3 135.3,214.3 133.4,213.8C131.5,213.3 129.6,212.3 130.5,211.0Z" fill="#5a8f3e"/>
<path d="M148.3,180.3C148.3,179.6 152.0,178.2 154.8,178.0C157.6,177.8 163.2,178.2 164.9,178.9C166.6,179.6 166.6,181.7 164.9,182.3C163.2,182.9 157.6,182.6 154.8,182.3C152.0,182.0 148.3,181.0 148.3,180.3Z" fill="#5a8f3e"/>
<path d="M111.9,179.5 113.9,177.5 115.4,180.9Z" fill="#5a8f3e"/>
<path d="M61.8,200.4 64.1,198.1 65.6,201.5Z" fill="#5a8f3e"/>
<path d="M78.4,159.4 80.2,158 80.7,160.9Z" fill="#5a8f3e"/>
<path d="M161.4,160.3 164.9,158.6 164.9,163.7Z" fill="#5a8f3e"/>
<path d="M76.7,42.1C76.9,41.4 78.7,40.0 79.6,40.1C80.5,40.2 82.1,42.2 81.9,42.9C81.7,43.6 79.3,44.2 78.4,44.1C77.5,44.0 76.5,42.8 76.7,42.1Z" fill="#5a8f3e"/>
<path d="M-1.1,112.2C0.3,107.2 4.2,109.1 7.5,107.9C10.8,106.7 15.1,106.4 18.9,105.0C22.7,103.6 26.6,101.4 30.4,99.3C34.2,97.2 38.5,94.3 41.8,92.2C45.1,90.1 47.1,88.8 50.4,86.4C53.7,84.0 58.5,80.8 61.8,77.9C65.1,75.1 67.5,72.7 70.4,69.3C73.3,65.9 76.1,61.1 79.0,57.8C81.9,54.4 85.2,52.1 87.6,49.2C90.0,46.3 93.3,43.5 93.3,40.6C93.3,37.8 89.0,35.0 87.6,32.1C86.2,29.2 84.7,25.9 84.7,23.5C84.7,21.1 85.2,18.7 87.6,17.7C90.0,16.7 95.2,16.7 99.0,17.7C102.8,18.7 107.2,21.6 110.5,23.5C113.8,25.4 115.8,28.5 119.1,29.2C122.4,29.9 126.7,28.5 130.5,27.8C134.3,27.1 138.7,25.1 142.0,24.9C145.3,24.6 148.1,25.1 150.5,26.3C152.9,27.5 153.9,30.2 156.3,32.1C158.7,34.0 163.5,33.0 164.9,37.8C166.3,42.6 166.1,57.8 164.9,60.7C163.7,63.6 159.1,54.5 157.7,55.0C156.3,55.5 157.0,59.7 156.3,63.5C155.6,67.3 154.4,74.6 153.4,77.9C152.4,81.2 150.3,80.8 150.5,83.6C150.7,86.4 153.8,92.1 154.8,95.0C155.8,97.9 157.0,98.9 156.3,100.8C155.6,102.7 152.9,105.1 150.5,106.5C148.1,107.9 144.8,108.8 142.0,109.3C139.2,109.8 136.3,108.8 133.4,109.3C130.5,109.8 127.7,110.8 124.8,112.2C121.9,113.6 118.6,116.0 116.2,117.9C113.8,119.8 112.9,122.3 110.5,123.7C108.1,125.1 104.8,126.5 101.9,126.5C99.0,126.5 95.7,123.7 93.3,123.7C90.9,123.7 89.5,124.6 87.6,126.5C85.7,128.4 84.8,132.7 81.9,135.1C79.0,137.5 74.2,139.4 70.4,140.8C66.6,142.2 62.3,143.2 59.0,143.7C55.7,144.2 52.3,144.6 50.4,143.7C48.5,142.8 48.9,139.4 47.5,138.0C46.1,136.6 44.2,136.1 41.8,135.1C39.4,134.1 36.1,131.7 33.2,132.2C30.3,132.7 26.5,136.1 24.6,138.0C22.7,139.9 23.2,142.3 21.8,143.7C20.4,145.1 18.5,147.1 16.1,146.6C13.7,146.1 10.4,142.2 7.5,140.8C4.6,139.4 0.3,142.8 -1.1,138.0C-2.5,133.2 -2.5,117.2 -1.1,112.2Z" fill="#648cc4"/>
<path d="M79.0,-0.0C81.2,-0.8 91.1,-0.8 93.3,-0.0C95.5,0.8 94.1,4.1 91.9,4.9C89.8,5.7 82.6,5.7 80.4,4.9C78.2,4.1 76.8,0.8 79.0,-0.0Z" fill="#648cc4"/>
<path d="M-1.1,185.2C-0.2,184.0 3.3,185.6 4.6,186.6C5.9,187.6 7.1,189.6 6.9,190.9C6.7,192.2 4.5,194.1 3.2,194.6C1.9,195.1 -0.4,195.4 -1.1,193.8C-1.8,192.2 -2.0,186.4 -1.1,185.2Z" fill="#648cc4"/>
<path d="M-1.1,119.4C1.3,116.1 8.4,115.2 13.2,112.8C18.0,110.4 23.4,107.1 27.5,104.8C31.6,102.5 33.9,100.8 37.5,98.8C41.1,96.8 44.9,94.4 49.2,92.7C53.5,91.0 59.6,90.4 63.3,88.7C67.0,87.0 69.2,85.4 71.3,82.7C73.4,80.0 74.3,75.7 76.1,72.7C77.9,69.8 79.5,68.0 81.9,65.0C84.3,62.0 88.1,58.1 90.5,55.0C92.9,51.9 96.2,49.3 96.2,46.4C96.2,43.5 91.9,40.7 90.5,37.8C89.1,34.9 87.8,31.6 87.6,29.2C87.3,26.8 87.1,24.7 89.0,23.5C90.9,22.3 95.9,21.5 99.0,22.0C102.1,22.5 106.2,24.2 107.6,26.3C109.0,28.4 108.5,32.5 107.6,34.9C106.6,37.3 103.3,38.7 101.9,40.6C100.5,42.5 98.5,44.5 99.0,46.4C99.5,48.3 102.4,51.6 104.8,52.1C107.2,52.6 110.9,51.1 113.3,49.2C115.7,47.3 116.7,43.0 119.1,40.6C121.5,38.2 124.9,36.8 127.7,34.9C130.6,33.0 133.3,30.1 136.2,29.2C139.0,28.2 141.9,28.2 144.8,29.2C147.7,30.1 151.0,33.0 153.4,34.9C155.8,36.8 157.2,39.2 159.1,40.6C161.0,42.0 164.2,43.5 164.9,43.5C165.6,43.5 164.4,39.6 163.4,40.6C162.4,41.6 160.8,46.7 159.1,49.2C157.4,51.7 154.9,53.2 153.4,55.8C151.9,58.4 152.1,62.2 150.3,65.0C148.5,67.8 145.6,70.9 142.5,72.7C139.4,74.5 134.0,74.5 131.9,75.8C129.8,77.1 129.7,78.3 130.2,80.4C130.7,82.5 132.5,86.7 134.8,88.2C137.2,89.7 141.2,88.8 144.3,89.6C147.4,90.3 151.4,91.2 153.4,92.7C155.4,94.2 156.6,96.8 156.6,98.8C156.6,100.8 155.8,103.7 153.4,105.0C151.1,106.3 146.1,106.0 142.5,106.5C138.9,107.0 135.5,107.2 131.9,108.2C128.3,109.2 123.9,112.1 121.1,112.8C118.3,113.5 116.6,112.7 115.1,112.2C113.6,111.7 112.7,110.8 111.9,109.6C111.1,108.4 111.5,105.9 110.2,105.0C108.9,104.1 105.8,103.6 104.2,104.2C102.6,104.8 101.5,107.2 100.5,108.5C99.5,109.8 99.0,112.4 98.2,112.2C97.4,112.0 95.7,110.0 95.6,107.3C95.5,104.6 97.8,98.4 97.6,96.2C97.4,94.0 95.8,93.9 94.5,93.9C93.2,93.9 91.8,95.8 89.6,96.2C87.3,96.6 83.3,95.8 81.0,96.2C78.7,96.6 76.8,97.1 75.9,98.8C75.1,100.5 75.3,104.2 75.9,106.2C76.5,108.2 78.8,109.7 79.6,111.1C80.4,112.5 81.6,112.9 81.0,114.8C80.4,116.7 77.3,119.3 75.9,122.2C74.5,125.1 73.8,129.4 72.4,132.0C71.0,134.6 69.3,136.6 67.3,138.0C65.2,139.4 62.1,140.9 60.1,140.5C58.1,140.1 56.2,138.5 55.0,135.7C53.8,132.8 53.3,126.9 52.7,123.4C52.1,119.9 52.2,116.7 51.3,114.8C50.4,112.9 48.7,111.8 47.5,112.2C46.3,112.6 45.3,115.4 44.1,117.1C42.9,118.8 41.5,120.6 40.4,122.2C39.2,123.8 39.1,125.4 37.2,126.8C35.3,128.2 31.5,128.8 29.2,130.8C26.9,132.8 24.9,137.5 23.2,138.8C21.5,140.1 20.9,139.5 19.2,138.8C17.5,138.1 16.2,135.8 13.2,134.8C10.2,133.8 3.6,133.1 1.2,132.8C-1.2,132.5 -0.7,135.0 -1.1,132.8C-1.5,130.6 -3.5,122.7 -1.1,119.4Z" fill="#43325e"/>
<path d="M103.3,69.3C104.5,68.6 108.8,69.5 110.5,70.7C112.2,71.9 113.5,74.5 113.3,76.4C113.1,78.3 110.5,81.4 109.1,82.1C107.7,82.8 105.8,81.9 104.8,80.7C103.8,79.5 103.5,76.9 103.3,75.0C103.0,73.1 102.1,70.0 103.3,69.3Z" fill="#648cc4"/>
<path d="M62.4,115.6C62.4,114.4 64.4,112.2 65.3,112.2C66.2,112.2 67.8,114.7 67.8,115.9C67.8,117.1 66.2,119.6 65.3,119.6C64.4,119.5 62.4,116.8 62.4,115.6Z" fill="#648cc4"/>
<path d="M101.3,43.5C102.1,41.9 104.4,39.2 106.2,39.2C108.0,39.2 111.2,41.6 111.9,43.5C112.6,45.4 111.7,49.2 110.5,50.7C109.3,52.2 106.3,53.0 104.8,52.7C103.3,52.4 101.9,50.2 101.3,48.7C100.7,47.2 100.5,45.1 101.3,43.5Z" fill="#648cc4"/>
<path d="M103.6,44.9C104.0,43.8 105.5,42.0 106.5,42.1C107.5,42.2 109.1,44.3 109.3,45.5C109.5,46.7 108.4,48.7 107.6,49.2C106.8,49.7 104.9,49.4 104.2,48.7C103.5,48.0 103.2,46.0 103.6,44.9Z" fill="#5a8f3e"/>
<path d="M106.2,72.7C106.5,71.9 108.5,72.1 109.1,72.7C109.7,73.3 110.2,75.6 109.9,76.4C109.6,77.2 107.7,77.9 107.1,77.3C106.5,76.7 105.9,73.5 106.2,72.7Z" fill="#5a8f3e"/>
<path d="M119.1,50.7C119.8,49.0 122.4,47.4 124.8,46.4C127.2,45.4 130.8,44.4 133.4,44.9C136.0,45.4 139.1,47.5 140.5,49.2C141.9,50.9 142.7,53.6 142.0,55.0C141.3,56.4 138.6,57.3 136.2,57.8C133.8,58.3 130.3,58.0 127.7,57.8C125.1,57.6 121.9,57.6 120.5,56.4C119.1,55.2 118.4,52.4 119.1,50.7Z" fill="#a85b96"/>
<path d="M84.7,66.4C85.9,64.7 88.1,62.3 90.5,62.1C92.9,61.9 97.1,63.3 99.0,65.0C100.9,66.7 101.9,69.5 101.9,72.1C101.9,74.7 100.4,79.0 99.0,80.7C97.6,82.4 95.2,82.6 93.3,82.1C91.4,81.6 89.3,79.6 87.6,77.9C85.9,76.2 83.8,74.0 83.3,72.1C82.8,70.2 83.5,68.1 84.7,66.4Z" fill="#a85b96"/>
<path d="M100.5,60.7C101.0,59.0 102.7,57.1 104.8,56.4C106.9,55.7 111.4,55.7 113.3,56.4C115.2,57.1 116.2,58.8 116.2,60.7C116.2,62.6 115.0,66.4 113.3,67.8C111.6,69.2 108.1,69.5 106.2,69.3C104.3,69.1 102.9,67.8 101.9,66.4C101.0,65.0 100.0,62.4 100.5,60.7Z" fill="#a85b96"/>
<path d="M120.5,75.0C121.1,73.7 122.7,71.1 123.4,71.6C124.1,72.1 125.0,76.2 124.8,77.9C124.6,79.7 123.4,81.9 122.5,82.1C121.6,82.3 119.9,80.5 119.6,79.3C119.3,78.1 119.9,76.3 120.5,75.0Z" fill="#a85b96"/>
<path d="M24.6,119.4C25.6,118.0 30.8,113.9 33.2,112.2C35.6,110.5 37.5,109.3 38.9,109.3C40.3,109.3 42.3,110.8 41.8,112.2C41.3,113.6 38.5,116.5 36.1,117.9C33.7,119.3 29.4,120.5 27.5,120.8C25.6,121.0 23.7,120.8 24.6,119.4Z" fill="#a85b96"/>
<path d="M129.1,95.0C129.3,94.0 130.6,93.1 131.1,93.6C131.6,94.1 132.1,97.0 131.9,97.9C131.7,98.9 130.2,99.8 129.7,99.3C129.2,98.8 128.9,96.0 129.1,95.0Z" fill="#a85b96"/>
<path d="M7.5,155.1C7.7,154.1 9.1,152.1 9.8,152.3C10.5,152.6 12.0,155.6 11.8,156.6C11.7,157.6 9.6,158.8 8.9,158.6C8.2,158.3 7.3,156.1 7.5,155.1Z" fill="#ffffff"/>
<path d="M2.3,142.3C2.4,141.5 3.9,140.1 4.6,140.3C5.3,140.5 6.4,142.8 6.3,143.7C6.2,144.5 4.7,145.6 4.0,145.4C3.3,145.2 2.2,143.2 2.3,142.3Z" fill="#ffffff"/>
<path d="M100.5,136.5C100.8,135.1 102.9,132.5 104.8,132.2C106.7,131.9 111.0,133.2 111.9,134.5C112.9,135.8 111.9,139.2 110.5,140.3C109.1,141.4 105.0,141.4 103.3,140.8C101.6,140.2 100.2,137.9 100.5,136.5Z" fill="#ffffff"/>
<path d="M116.2,126.5C116.2,125.5 118.4,123.7 119.6,123.7C120.8,123.7 123.4,125.5 123.4,126.5C123.4,127.5 120.8,129.4 119.6,129.4C118.4,129.4 116.2,127.5 116.2,126.5Z" fill="#ffffff"/>
<path d="M94.7,126.5C94.8,125.3 96.8,122.9 97.6,123.1C98.4,123.3 99.8,126.8 99.6,127.9C99.4,129.1 97.5,130.2 96.7,130.0C95.9,129.8 94.6,127.7 94.7,126.5Z" fill="#ffffff"/>
<path d="M136.2,83.6C137.4,82.5 142.4,80.3 144.8,80.1C147.2,79.8 150.2,81.0 150.5,82.1C150.8,83.1 148.4,85.7 146.3,86.4C144.2,87.1 139.4,86.9 137.7,86.4C136.0,85.9 135.0,84.6 136.2,83.6Z" fill="#ffffff"/>
<path d="M153.4,66.4C153.6,63.9 157.2,59.5 159.1,57.8C161.0,56.1 163.9,54.0 164.9,56.4C165.9,58.8 166.1,69.4 164.9,72.1C163.7,74.8 159.6,73.7 157.7,72.7C155.8,71.8 153.2,68.9 153.4,66.4Z" fill="#ffffff"/>
</g>
<use href="#ol"/>
<rect x="0" y="0" width="163.2" height="220.3" fill="none" stroke="#000" stroke-width="1.5"/>
<line x1="-4" y1="3.80" x2="0" y2="3.80" stroke="#000" stroke-width="1.1"/>
<text x="-7.0" y="7.00" font-size="9" text-anchor="end" fill="#151515">30°N</text>
<line x1="-4" y1="43.07" x2="0" y2="43.07" stroke="#000" stroke-width="1.1"/>
<text x="-7.0" y="46.27" font-size="9" text-anchor="end" fill="#151515">29°N</text>
<line x1="-4" y1="82.34" x2="0" y2="82.34" stroke="#000" stroke-width="1.1"/>
<text x="-7.0" y="85.54" font-size="9" text-anchor="end" fill="#151515">28°N</text>
<line x1="-4" y1="121.61" x2="0" y2="121.61" stroke="#000" stroke-width="1.1"/>
<text x="-7.0" y="124.81" font-size="9" text-anchor="end" fill="#151515">27°N</text>
<line x1="-4" y1="160.88" x2="0" y2="160.88" stroke="#000" stroke-width="1.1"/>
<text x="-7.0" y="164.08" font-size="9" text-anchor="end" fill="#151515">26°N</text>
<line x1="-4" y1="200.15" x2="0" y2="200.15" stroke="#000" stroke-width="1.1"/>
<text x="-7.0" y="203.35" font-size="9" text-anchor="end" fill="#151515">25°N</text>
<line x1="15.50" y1="220.3" x2="15.50" y2="224.3" stroke="#000" stroke-width="1.1"/>
<text x="15.50" y="235.90" font-size="9.2" text-anchor="middle" fill="#151515">114°E</text>
<line x1="48.30" y1="220.3" x2="48.30" y2="224.3" stroke="#000" stroke-width="1.1"/>
<text x="48.30" y="235.90" font-size="9.2" text-anchor="middle" fill="#151515">115°E</text>
<line x1="81.10" y1="220.3" x2="81.10" y2="224.3" stroke="#000" stroke-width="1.1"/>
<text x="81.10" y="235.90" font-size="9.2" text-anchor="middle" fill="#151515">116°E</text>
<line x1="113.90" y1="220.3" x2="113.90" y2="224.3" stroke="#000" stroke-width="1.1"/>
<text x="113.90" y="235.90" font-size="9.2" text-anchor="middle" fill="#151515">117°E</text>
<line x1="146.70" y1="220.3" x2="146.70" y2="224.3" stroke="#000" stroke-width="1.1"/>
<text x="146.70" y="235.90" font-size="9.2" text-anchor="middle" fill="#151515">118°E</text>
</g>
<g transform="translate(0,19.7)">
<path d="M622.3,54 L626.4,29.9 L630.5,54Z" fill="#3a1e1e" stroke="#000" stroke-width="1"/>
<rect x="622.3" y="54" width="8.2" height="23.5" fill="#c03a30" stroke="#000" stroke-width="1"/>
<rect x="622.3" y="77.5" width="8.2" height="23.5" fill="#a85b96" stroke="#000" stroke-width="1"/>
<rect x="622.3" y="101" width="8.2" height="23.5" fill="#43325e" stroke="#000" stroke-width="1"/>
<rect x="622.3" y="124.5" width="8.2" height="23.5" fill="#648cc4" stroke="#000" stroke-width="1"/>
<rect x="622.3" y="148" width="8.2" height="23.5" fill="#5a8f3e" stroke="#000" stroke-width="1"/>
<path d="M622.3,171.5 L626.4,192.3 L630.5,171.5Z" fill="#fff" stroke="#000" stroke-width="1"/>
<text x="634.2" y="57.3" font-size="9.2" fill="#151515">300</text>
<text x="634.2" y="80.8" font-size="9.2" fill="#151515">200</text>
<text x="634.2" y="104.3" font-size="9.2" fill="#151515">100</text>
<text x="634.2" y="127.8" font-size="9.2" fill="#151515">50</text>
<text x="634.2" y="151.3" font-size="9.2" fill="#151515">25</text>
<text x="634.2" y="174.8" font-size="9.2" fill="#151515">10</text>
</g>
<g transform="translate(0,282.6)">
<path d="M622.3,54 L626.4,29.9 L630.5,54Z" fill="#3a1e1e" stroke="#000" stroke-width="1"/>
<rect x="622.3" y="54" width="8.2" height="23.5" fill="#c03a30" stroke="#000" stroke-width="1"/>
<rect x="622.3" y="77.5" width="8.2" height="23.5" fill="#a85b96" stroke="#000" stroke-width="1"/>
<rect x="622.3" y="101" width="8.2" height="23.5" fill="#43325e" stroke="#000" stroke-width="1"/>
<rect x="622.3" y="124.5" width="8.2" height="23.5" fill="#648cc4" stroke="#000" stroke-width="1"/>
<rect x="622.3" y="148" width="8.2" height="23.5" fill="#5a8f3e" stroke="#000" stroke-width="1"/>
<path d="M622.3,171.5 L626.4,192.3 L630.5,171.5Z" fill="#fff" stroke="#000" stroke-width="1"/>
<text x="634.2" y="57.3" font-size="9.2" fill="#151515">300</text>
<text x="634.2" y="80.8" font-size="9.2" fill="#151515">200</text>
<text x="634.2" y="104.3" font-size="9.2" fill="#151515">100</text>
<text x="634.2" y="127.8" font-size="9.2" fill="#151515">50</text>
<text x="634.2" y="151.3" font-size="9.2" fill="#151515">25</text>
<text x="634.2" y="174.8" font-size="9.2" fill="#151515">10</text>
</g>
<g transform="translate(0,547.3)">
<path d="M622.3,54 L626.4,29.9 L630.5,54Z" fill="#3a1e1e" stroke="#000" stroke-width="1"/>
<rect x="622.3" y="54" width="8.2" height="23.5" fill="#c03a30" stroke="#000" stroke-width="1"/>
<rect x="622.3" y="77.5" width="8.2" height="23.5" fill="#a85b96" stroke="#000" stroke-width="1"/>
<rect x="622.3" y="101" width="8.2" height="23.5" fill="#43325e" stroke="#000" stroke-width="1"/>
<rect x="622.3" y="124.5" width="8.2" height="23.5" fill="#648cc4" stroke="#000" stroke-width="1"/>
<rect x="622.3" y="148" width="8.2" height="23.5" fill="#5a8f3e" stroke="#000" stroke-width="1"/>
<path d="M622.3,171.5 L626.4,192.3 L630.5,171.5Z" fill="#fff" stroke="#000" stroke-width="1"/>
<text x="634.2" y="57.3" font-size="9.2" fill="#151515">300</text>
<text x="634.2" y="80.8" font-size="9.2" fill="#151515">200</text>
<text x="634.2" y="104.3" font-size="9.2" fill="#151515">100</text>
<text x="634.2" y="127.8" font-size="9.2" fill="#151515">50</text>
<text x="634.2" y="151.3" font-size="9.2" fill="#151515">25</text>
<text x="634.2" y="174.8" font-size="9.2" fill="#151515">10</text>
</g>
</svg></body></html>
